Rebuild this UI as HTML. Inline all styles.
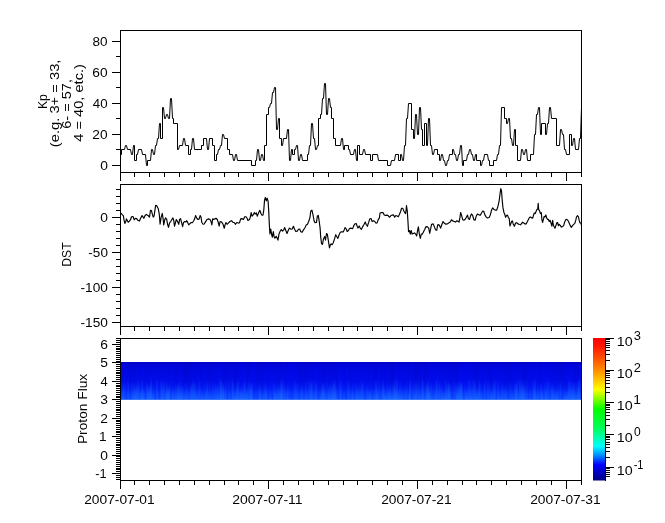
<!DOCTYPE html>
<html><head><meta charset="utf-8"><title>Kp / DST / Proton Flux</title>
<style>html,body{margin:0;padding:0;background:#fff;}body{width:665px;height:523px;position:relative;overflow:hidden;font-family:"Liberation Sans",sans-serif;}</style></head>
<body>
<svg width="665" height="523" viewBox="0 0 665 523" style="display:block;position:absolute;left:0;top:0">
<rect x="0" y="0" width="665" height="523" fill="#ffffff"/>
<defs>
<linearGradient id="sg" x1="0" y1="0" x2="0" y2="1"><stop offset="0" stop-color="#0000cc"/><stop offset="0.08" stop-color="#0006e2"/><stop offset="0.50" stop-color="#000cee"/><stop offset="0.68" stop-color="#021af6"/><stop offset="0.85" stop-color="#0634fe"/><stop offset="1" stop-color="#0a44ff"/></linearGradient>
<linearGradient id="st0" x1="0" y1="0" x2="0" y2="1"><stop offset="0.42" stop-color="#2c94ff" stop-opacity="0"/><stop offset="0.54" stop-color="#2c94ff" stop-opacity="0.35"/><stop offset="1" stop-color="#2c94ff" stop-opacity="1"/></linearGradient>
<linearGradient id="st1" x1="0" y1="0" x2="0" y2="1"><stop offset="0.50" stop-color="#2c94ff" stop-opacity="0"/><stop offset="0.62" stop-color="#2c94ff" stop-opacity="0.35"/><stop offset="1" stop-color="#2c94ff" stop-opacity="1"/></linearGradient>
<linearGradient id="st2" x1="0" y1="0" x2="0" y2="1"><stop offset="0.58" stop-color="#2c94ff" stop-opacity="0"/><stop offset="0.70" stop-color="#2c94ff" stop-opacity="0.35"/><stop offset="1" stop-color="#2c94ff" stop-opacity="1"/></linearGradient>
<linearGradient id="st3" x1="0" y1="0" x2="0" y2="1"><stop offset="0.66" stop-color="#2c94ff" stop-opacity="0"/><stop offset="0.78" stop-color="#2c94ff" stop-opacity="0.35"/><stop offset="1" stop-color="#2c94ff" stop-opacity="1"/></linearGradient>
<linearGradient id="st4" x1="0" y1="0" x2="0" y2="1"><stop offset="0.74" stop-color="#2c94ff" stop-opacity="0"/><stop offset="0.86" stop-color="#2c94ff" stop-opacity="0.35"/><stop offset="1" stop-color="#2c94ff" stop-opacity="1"/></linearGradient>
<linearGradient id="sd" x1="0" y1="0" x2="0" y2="1"><stop offset="0" stop-color="#000078" stop-opacity="1"/><stop offset="0.55" stop-color="#000078" stop-opacity="0.7"/><stop offset="0.8" stop-color="#000078" stop-opacity="0.15"/><stop offset="1" stop-color="#000078" stop-opacity="0"/></linearGradient>
<linearGradient id="cb" x1="0" y1="0" x2="0" y2="1"><stop offset="0" stop-color="#ff0000"/><stop offset="0.06" stop-color="#ff1800"/><stop offset="0.20" stop-color="#ff7800"/><stop offset="0.30" stop-color="#ffc800"/><stop offset="0.36" stop-color="#ffff00"/><stop offset="0.42" stop-color="#90ff00"/><stop offset="0.50" stop-color="#00ff00"/><stop offset="0.64" stop-color="#00ff60"/><stop offset="0.76" stop-color="#00ffff"/><stop offset="0.83" stop-color="#0080ff"/><stop offset="0.89" stop-color="#0000ff"/><stop offset="1" stop-color="#000080"/></linearGradient>
</defs>
<rect x="120.5" y="362.0" width="461.0" height="37.8" fill="url(#sg)"/>
<rect x="120.5" y="362.0" width="1.0" height="37.8" fill="url(#st4)" opacity="0.27"/>
<rect x="120.5" y="362.0" width="1.0" height="37.8" fill="url(#sd)" opacity="0.11"/>
<rect x="121.5" y="362.0" width="1.0" height="37.8" fill="url(#sd)" opacity="0.10"/>
<rect x="122.5" y="362.0" width="1.0" height="37.8" fill="url(#st1)" opacity="0.42"/>
<rect x="122.5" y="362.0" width="1.0" height="37.8" fill="url(#sd)" opacity="0.12"/>
<rect x="123.5" y="362.0" width="1.0" height="37.8" fill="url(#st1)" opacity="0.21"/>
<rect x="123.5" y="362.0" width="1.0" height="37.8" fill="url(#sd)" opacity="0.10"/>
<rect x="124.5" y="362.0" width="1.0" height="37.8" fill="url(#st1)" opacity="0.23"/>
<rect x="126.5" y="362.0" width="1.0" height="37.8" fill="url(#sd)" opacity="0.13"/>
<rect x="127.5" y="362.0" width="1.0" height="37.8" fill="url(#st0)" opacity="0.35"/>
<rect x="128.5" y="362.0" width="1.0" height="37.8" fill="url(#st1)" opacity="0.19"/>
<rect x="128.5" y="362.0" width="1.0" height="37.8" fill="url(#sd)" opacity="0.10"/>
<rect x="129.5" y="362.0" width="1.0" height="37.8" fill="url(#sd)" opacity="0.16"/>
<rect x="130.5" y="362.0" width="1.0" height="37.8" fill="url(#sd)" opacity="0.16"/>
<rect x="131.5" y="362.0" width="1.0" height="37.8" fill="url(#st1)" opacity="0.41"/>
<rect x="131.5" y="362.0" width="1.0" height="37.8" fill="url(#sd)" opacity="0.08"/>
<rect x="132.5" y="362.0" width="1.0" height="37.8" fill="url(#st4)" opacity="0.28"/>
<rect x="132.5" y="362.0" width="1.0" height="37.8" fill="url(#sd)" opacity="0.15"/>
<rect x="133.5" y="362.0" width="1.0" height="37.8" fill="url(#st1)" opacity="0.47"/>
<rect x="133.5" y="362.0" width="1.0" height="37.8" fill="url(#sd)" opacity="0.13"/>
<rect x="134.5" y="362.0" width="1.0" height="37.8" fill="url(#st3)" opacity="0.58"/>
<rect x="134.5" y="362.0" width="1.0" height="37.8" fill="url(#sd)" opacity="0.14"/>
<rect x="135.5" y="362.0" width="1.0" height="37.8" fill="url(#st1)" opacity="0.36"/>
<rect x="135.5" y="362.0" width="1.0" height="37.8" fill="url(#sd)" opacity="0.09"/>
<rect x="136.5" y="362.0" width="1.0" height="37.8" fill="url(#st2)" opacity="0.53"/>
<rect x="137.5" y="362.0" width="1.0" height="37.8" fill="url(#st0)" opacity="0.34"/>
<rect x="137.5" y="362.0" width="1.0" height="37.8" fill="url(#sd)" opacity="0.10"/>
<rect x="138.5" y="362.0" width="1.0" height="37.8" fill="url(#st0)" opacity="0.38"/>
<rect x="138.5" y="362.0" width="1.0" height="37.8" fill="url(#sd)" opacity="0.13"/>
<rect x="139.5" y="362.0" width="1.0" height="37.8" fill="url(#st3)" opacity="0.28"/>
<rect x="139.5" y="362.0" width="1.0" height="37.8" fill="url(#sd)" opacity="0.15"/>
<rect x="140.5" y="362.0" width="1.0" height="37.8" fill="url(#st3)" opacity="0.39"/>
<rect x="140.5" y="362.0" width="1.0" height="37.8" fill="url(#sd)" opacity="0.08"/>
<rect x="141.5" y="362.0" width="1.0" height="37.8" fill="url(#st0)" opacity="0.44"/>
<rect x="142.5" y="362.0" width="1.0" height="37.8" fill="url(#st3)" opacity="0.57"/>
<rect x="143.5" y="362.0" width="1.0" height="37.8" fill="url(#st2)" opacity="0.24"/>
<rect x="143.5" y="362.0" width="1.0" height="37.8" fill="url(#sd)" opacity="0.12"/>
<rect x="144.5" y="362.0" width="1.0" height="37.8" fill="url(#st3)" opacity="0.24"/>
<rect x="144.5" y="362.0" width="1.0" height="37.8" fill="url(#sd)" opacity="0.15"/>
<rect x="145.5" y="362.0" width="1.0" height="37.8" fill="url(#sd)" opacity="0.08"/>
<rect x="146.5" y="362.0" width="1.0" height="37.8" fill="url(#st1)" opacity="0.42"/>
<rect x="147.5" y="362.0" width="1.0" height="37.8" fill="url(#st2)" opacity="0.55"/>
<rect x="147.5" y="362.0" width="1.0" height="37.8" fill="url(#sd)" opacity="0.14"/>
<rect x="148.5" y="362.0" width="1.0" height="37.8" fill="url(#st2)" opacity="0.44"/>
<rect x="148.5" y="362.0" width="1.0" height="37.8" fill="url(#sd)" opacity="0.16"/>
<rect x="149.5" y="362.0" width="1.0" height="37.8" fill="url(#st2)" opacity="0.49"/>
<rect x="149.5" y="362.0" width="1.0" height="37.8" fill="url(#sd)" opacity="0.07"/>
<rect x="150.5" y="362.0" width="1.0" height="37.8" fill="url(#st0)" opacity="0.56"/>
<rect x="151.5" y="362.0" width="1.0" height="37.8" fill="url(#st2)" opacity="0.31"/>
<rect x="151.5" y="362.0" width="1.0" height="37.8" fill="url(#sd)" opacity="0.08"/>
<rect x="152.5" y="362.0" width="1.0" height="37.8" fill="url(#st4)" opacity="0.50"/>
<rect x="152.5" y="362.0" width="1.0" height="37.8" fill="url(#sd)" opacity="0.07"/>
<rect x="153.5" y="362.0" width="1.0" height="37.8" fill="url(#st2)" opacity="0.24"/>
<rect x="153.5" y="362.0" width="1.0" height="37.8" fill="url(#sd)" opacity="0.11"/>
<rect x="155.5" y="362.0" width="1.0" height="37.8" fill="url(#sd)" opacity="0.11"/>
<rect x="156.5" y="362.0" width="1.0" height="37.8" fill="url(#st0)" opacity="0.44"/>
<rect x="157.5" y="362.0" width="1.0" height="37.8" fill="url(#st3)" opacity="0.21"/>
<rect x="157.5" y="362.0" width="1.0" height="37.8" fill="url(#sd)" opacity="0.10"/>
<rect x="158.5" y="362.0" width="1.0" height="37.8" fill="url(#sd)" opacity="0.13"/>
<rect x="159.5" y="362.0" width="1.0" height="37.8" fill="url(#sd)" opacity="0.08"/>
<rect x="160.5" y="362.0" width="1.0" height="37.8" fill="url(#st0)" opacity="0.32"/>
<rect x="161.5" y="362.0" width="1.0" height="37.8" fill="url(#st1)" opacity="0.45"/>
<rect x="162.5" y="362.0" width="1.0" height="37.8" fill="url(#st1)" opacity="0.24"/>
<rect x="162.5" y="362.0" width="1.0" height="37.8" fill="url(#sd)" opacity="0.12"/>
<rect x="163.5" y="362.0" width="1.0" height="37.8" fill="url(#st0)" opacity="0.34"/>
<rect x="163.5" y="362.0" width="1.0" height="37.8" fill="url(#sd)" opacity="0.14"/>
<rect x="164.5" y="362.0" width="1.0" height="37.8" fill="url(#st0)" opacity="0.20"/>
<rect x="164.5" y="362.0" width="1.0" height="37.8" fill="url(#sd)" opacity="0.10"/>
<rect x="165.5" y="362.0" width="1.0" height="37.8" fill="url(#st3)" opacity="0.42"/>
<rect x="165.5" y="362.0" width="1.0" height="37.8" fill="url(#sd)" opacity="0.07"/>
<rect x="166.5" y="362.0" width="1.0" height="37.8" fill="url(#st1)" opacity="0.55"/>
<rect x="166.5" y="362.0" width="1.0" height="37.8" fill="url(#sd)" opacity="0.11"/>
<rect x="167.5" y="362.0" width="1.0" height="37.8" fill="url(#st3)" opacity="0.63"/>
<rect x="167.5" y="362.0" width="1.0" height="37.8" fill="url(#sd)" opacity="0.10"/>
<rect x="168.5" y="362.0" width="1.0" height="37.8" fill="url(#st2)" opacity="0.54"/>
<rect x="168.5" y="362.0" width="1.0" height="37.8" fill="url(#sd)" opacity="0.07"/>
<rect x="169.5" y="362.0" width="1.0" height="37.8" fill="url(#st1)" opacity="0.34"/>
<rect x="169.5" y="362.0" width="1.0" height="37.8" fill="url(#sd)" opacity="0.08"/>
<rect x="170.5" y="362.0" width="1.0" height="37.8" fill="url(#sd)" opacity="0.13"/>
<rect x="171.5" y="362.0" width="1.0" height="37.8" fill="url(#st3)" opacity="0.28"/>
<rect x="172.5" y="362.0" width="1.0" height="37.8" fill="url(#st3)" opacity="0.46"/>
<rect x="173.5" y="362.0" width="1.0" height="37.8" fill="url(#st4)" opacity="0.30"/>
<rect x="173.5" y="362.0" width="1.0" height="37.8" fill="url(#sd)" opacity="0.12"/>
<rect x="174.5" y="362.0" width="1.0" height="37.8" fill="url(#st2)" opacity="0.26"/>
<rect x="174.5" y="362.0" width="1.0" height="37.8" fill="url(#sd)" opacity="0.14"/>
<rect x="175.5" y="362.0" width="1.0" height="37.8" fill="url(#st2)" opacity="0.38"/>
<rect x="175.5" y="362.0" width="1.0" height="37.8" fill="url(#sd)" opacity="0.14"/>
<rect x="176.5" y="362.0" width="1.0" height="37.8" fill="url(#st2)" opacity="0.30"/>
<rect x="176.5" y="362.0" width="1.0" height="37.8" fill="url(#sd)" opacity="0.14"/>
<rect x="177.5" y="362.0" width="1.0" height="37.8" fill="url(#st2)" opacity="0.46"/>
<rect x="177.5" y="362.0" width="1.0" height="37.8" fill="url(#sd)" opacity="0.08"/>
<rect x="178.5" y="362.0" width="1.0" height="37.8" fill="url(#st1)" opacity="0.58"/>
<rect x="178.5" y="362.0" width="1.0" height="37.8" fill="url(#sd)" opacity="0.07"/>
<rect x="179.5" y="362.0" width="1.0" height="37.8" fill="url(#st4)" opacity="0.48"/>
<rect x="180.5" y="362.0" width="1.0" height="37.8" fill="url(#st2)" opacity="0.51"/>
<rect x="181.5" y="362.0" width="1.0" height="37.8" fill="url(#st2)" opacity="0.40"/>
<rect x="181.5" y="362.0" width="1.0" height="37.8" fill="url(#sd)" opacity="0.12"/>
<rect x="182.5" y="362.0" width="1.0" height="37.8" fill="url(#st3)" opacity="0.30"/>
<rect x="182.5" y="362.0" width="1.0" height="37.8" fill="url(#sd)" opacity="0.13"/>
<rect x="183.5" y="362.0" width="1.0" height="37.8" fill="url(#st3)" opacity="0.26"/>
<rect x="183.5" y="362.0" width="1.0" height="37.8" fill="url(#sd)" opacity="0.15"/>
<rect x="184.5" y="362.0" width="1.0" height="37.8" fill="url(#st4)" opacity="0.50"/>
<rect x="184.5" y="362.0" width="1.0" height="37.8" fill="url(#sd)" opacity="0.18"/>
<rect x="185.5" y="362.0" width="1.0" height="37.8" fill="url(#st1)" opacity="0.26"/>
<rect x="185.5" y="362.0" width="1.0" height="37.8" fill="url(#sd)" opacity="0.19"/>
<rect x="186.5" y="362.0" width="1.0" height="37.8" fill="url(#st3)" opacity="0.44"/>
<rect x="186.5" y="362.0" width="1.0" height="37.8" fill="url(#sd)" opacity="0.19"/>
<rect x="187.5" y="362.0" width="1.0" height="37.8" fill="url(#st3)" opacity="0.29"/>
<rect x="187.5" y="362.0" width="1.0" height="37.8" fill="url(#sd)" opacity="0.08"/>
<rect x="188.5" y="362.0" width="1.0" height="37.8" fill="url(#st4)" opacity="0.18"/>
<rect x="188.5" y="362.0" width="1.0" height="37.8" fill="url(#sd)" opacity="0.13"/>
<rect x="189.5" y="362.0" width="1.0" height="37.8" fill="url(#st2)" opacity="0.27"/>
<rect x="189.5" y="362.0" width="1.0" height="37.8" fill="url(#sd)" opacity="0.17"/>
<rect x="190.5" y="362.0" width="1.0" height="37.8" fill="url(#st2)" opacity="0.36"/>
<rect x="190.5" y="362.0" width="1.0" height="37.8" fill="url(#sd)" opacity="0.16"/>
<rect x="191.5" y="362.0" width="1.0" height="37.8" fill="url(#st1)" opacity="0.44"/>
<rect x="192.5" y="362.0" width="1.0" height="37.8" fill="url(#st1)" opacity="0.42"/>
<rect x="192.5" y="362.0" width="1.0" height="37.8" fill="url(#sd)" opacity="0.10"/>
<rect x="193.5" y="362.0" width="1.0" height="37.8" fill="url(#st0)" opacity="0.26"/>
<rect x="193.5" y="362.0" width="1.0" height="37.8" fill="url(#sd)" opacity="0.12"/>
<rect x="194.5" y="362.0" width="1.0" height="37.8" fill="url(#st1)" opacity="0.50"/>
<rect x="194.5" y="362.0" width="1.0" height="37.8" fill="url(#sd)" opacity="0.17"/>
<rect x="195.5" y="362.0" width="1.0" height="37.8" fill="url(#st2)" opacity="0.23"/>
<rect x="195.5" y="362.0" width="1.0" height="37.8" fill="url(#sd)" opacity="0.08"/>
<rect x="196.5" y="362.0" width="1.0" height="37.8" fill="url(#st4)" opacity="0.48"/>
<rect x="196.5" y="362.0" width="1.0" height="37.8" fill="url(#sd)" opacity="0.09"/>
<rect x="197.5" y="362.0" width="1.0" height="37.8" fill="url(#st3)" opacity="0.21"/>
<rect x="197.5" y="362.0" width="1.0" height="37.8" fill="url(#sd)" opacity="0.09"/>
<rect x="198.5" y="362.0" width="1.0" height="37.8" fill="url(#st1)" opacity="0.34"/>
<rect x="199.5" y="362.0" width="1.0" height="37.8" fill="url(#st0)" opacity="0.23"/>
<rect x="199.5" y="362.0" width="1.0" height="37.8" fill="url(#sd)" opacity="0.13"/>
<rect x="200.5" y="362.0" width="1.0" height="37.8" fill="url(#st3)" opacity="0.23"/>
<rect x="200.5" y="362.0" width="1.0" height="37.8" fill="url(#sd)" opacity="0.17"/>
<rect x="201.5" y="362.0" width="1.0" height="37.8" fill="url(#st4)" opacity="0.44"/>
<rect x="201.5" y="362.0" width="1.0" height="37.8" fill="url(#sd)" opacity="0.15"/>
<rect x="202.5" y="362.0" width="1.0" height="37.8" fill="url(#st4)" opacity="0.33"/>
<rect x="203.5" y="362.0" width="1.0" height="37.8" fill="url(#st4)" opacity="0.25"/>
<rect x="204.5" y="362.0" width="1.0" height="37.8" fill="url(#st2)" opacity="0.23"/>
<rect x="204.5" y="362.0" width="1.0" height="37.8" fill="url(#sd)" opacity="0.10"/>
<rect x="205.5" y="362.0" width="1.0" height="37.8" fill="url(#st4)" opacity="0.42"/>
<rect x="205.5" y="362.0" width="1.0" height="37.8" fill="url(#sd)" opacity="0.09"/>
<rect x="206.5" y="362.0" width="1.0" height="37.8" fill="url(#st1)" opacity="0.43"/>
<rect x="206.5" y="362.0" width="1.0" height="37.8" fill="url(#sd)" opacity="0.08"/>
<rect x="207.5" y="362.0" width="1.0" height="37.8" fill="url(#st3)" opacity="0.24"/>
<rect x="207.5" y="362.0" width="1.0" height="37.8" fill="url(#sd)" opacity="0.08"/>
<rect x="208.5" y="362.0" width="1.0" height="37.8" fill="url(#st4)" opacity="0.48"/>
<rect x="208.5" y="362.0" width="1.0" height="37.8" fill="url(#sd)" opacity="0.15"/>
<rect x="209.5" y="362.0" width="1.0" height="37.8" fill="url(#st0)" opacity="0.23"/>
<rect x="209.5" y="362.0" width="1.0" height="37.8" fill="url(#sd)" opacity="0.16"/>
<rect x="210.5" y="362.0" width="1.0" height="37.8" fill="url(#st4)" opacity="0.24"/>
<rect x="210.5" y="362.0" width="1.0" height="37.8" fill="url(#sd)" opacity="0.10"/>
<rect x="211.5" y="362.0" width="1.0" height="37.8" fill="url(#st4)" opacity="0.31"/>
<rect x="211.5" y="362.0" width="1.0" height="37.8" fill="url(#sd)" opacity="0.08"/>
<rect x="212.5" y="362.0" width="1.0" height="37.8" fill="url(#st1)" opacity="0.27"/>
<rect x="212.5" y="362.0" width="1.0" height="37.8" fill="url(#sd)" opacity="0.08"/>
<rect x="213.5" y="362.0" width="1.0" height="37.8" fill="url(#st3)" opacity="0.30"/>
<rect x="213.5" y="362.0" width="1.0" height="37.8" fill="url(#sd)" opacity="0.09"/>
<rect x="214.5" y="362.0" width="1.0" height="37.8" fill="url(#st1)" opacity="0.27"/>
<rect x="214.5" y="362.0" width="1.0" height="37.8" fill="url(#sd)" opacity="0.14"/>
<rect x="215.5" y="362.0" width="1.0" height="37.8" fill="url(#st2)" opacity="0.35"/>
<rect x="215.5" y="362.0" width="1.0" height="37.8" fill="url(#sd)" opacity="0.08"/>
<rect x="216.5" y="362.0" width="1.0" height="37.8" fill="url(#st2)" opacity="0.34"/>
<rect x="216.5" y="362.0" width="1.0" height="37.8" fill="url(#sd)" opacity="0.08"/>
<rect x="217.5" y="362.0" width="1.0" height="37.8" fill="url(#st2)" opacity="0.52"/>
<rect x="218.5" y="362.0" width="1.0" height="37.8" fill="url(#st4)" opacity="0.27"/>
<rect x="219.5" y="362.0" width="1.0" height="37.8" fill="url(#st0)" opacity="0.50"/>
<rect x="220.5" y="362.0" width="1.0" height="37.8" fill="url(#st0)" opacity="0.52"/>
<rect x="220.5" y="362.0" width="1.0" height="37.8" fill="url(#sd)" opacity="0.12"/>
<rect x="221.5" y="362.0" width="1.0" height="37.8" fill="url(#st1)" opacity="0.41"/>
<rect x="221.5" y="362.0" width="1.0" height="37.8" fill="url(#sd)" opacity="0.11"/>
<rect x="222.5" y="362.0" width="1.0" height="37.8" fill="url(#st1)" opacity="0.55"/>
<rect x="222.5" y="362.0" width="1.0" height="37.8" fill="url(#sd)" opacity="0.14"/>
<rect x="223.5" y="362.0" width="1.0" height="37.8" fill="url(#st2)" opacity="0.43"/>
<rect x="223.5" y="362.0" width="1.0" height="37.8" fill="url(#sd)" opacity="0.16"/>
<rect x="224.5" y="362.0" width="1.0" height="37.8" fill="url(#st3)" opacity="0.29"/>
<rect x="224.5" y="362.0" width="1.0" height="37.8" fill="url(#sd)" opacity="0.13"/>
<rect x="225.5" y="362.0" width="1.0" height="37.8" fill="url(#st0)" opacity="0.32"/>
<rect x="225.5" y="362.0" width="1.0" height="37.8" fill="url(#sd)" opacity="0.16"/>
<rect x="226.5" y="362.0" width="1.0" height="37.8" fill="url(#sd)" opacity="0.07"/>
<rect x="227.5" y="362.0" width="1.0" height="37.8" fill="url(#sd)" opacity="0.12"/>
<rect x="228.5" y="362.0" width="1.0" height="37.8" fill="url(#st0)" opacity="0.30"/>
<rect x="228.5" y="362.0" width="1.0" height="37.8" fill="url(#sd)" opacity="0.14"/>
<rect x="229.5" y="362.0" width="1.0" height="37.8" fill="url(#st4)" opacity="0.30"/>
<rect x="229.5" y="362.0" width="1.0" height="37.8" fill="url(#sd)" opacity="0.09"/>
<rect x="231.5" y="362.0" width="1.0" height="37.8" fill="url(#st0)" opacity="0.28"/>
<rect x="231.5" y="362.0" width="1.0" height="37.8" fill="url(#sd)" opacity="0.10"/>
<rect x="232.5" y="362.0" width="1.0" height="37.8" fill="url(#st0)" opacity="0.47"/>
<rect x="232.5" y="362.0" width="1.0" height="37.8" fill="url(#sd)" opacity="0.11"/>
<rect x="233.5" y="362.0" width="1.0" height="37.8" fill="url(#st4)" opacity="0.37"/>
<rect x="233.5" y="362.0" width="1.0" height="37.8" fill="url(#sd)" opacity="0.14"/>
<rect x="234.5" y="362.0" width="1.0" height="37.8" fill="url(#st3)" opacity="0.38"/>
<rect x="234.5" y="362.0" width="1.0" height="37.8" fill="url(#sd)" opacity="0.14"/>
<rect x="235.5" y="362.0" width="1.0" height="37.8" fill="url(#st3)" opacity="0.50"/>
<rect x="235.5" y="362.0" width="1.0" height="37.8" fill="url(#sd)" opacity="0.16"/>
<rect x="236.5" y="362.0" width="1.0" height="37.8" fill="url(#st1)" opacity="0.37"/>
<rect x="236.5" y="362.0" width="1.0" height="37.8" fill="url(#sd)" opacity="0.17"/>
<rect x="237.5" y="362.0" width="1.0" height="37.8" fill="url(#st0)" opacity="0.51"/>
<rect x="237.5" y="362.0" width="1.0" height="37.8" fill="url(#sd)" opacity="0.12"/>
<rect x="238.5" y="362.0" width="1.0" height="37.8" fill="url(#st3)" opacity="0.33"/>
<rect x="239.5" y="362.0" width="1.0" height="37.8" fill="url(#st3)" opacity="0.37"/>
<rect x="239.5" y="362.0" width="1.0" height="37.8" fill="url(#sd)" opacity="0.10"/>
<rect x="240.5" y="362.0" width="1.0" height="37.8" fill="url(#st3)" opacity="0.52"/>
<rect x="241.5" y="362.0" width="1.0" height="37.8" fill="url(#st2)" opacity="0.50"/>
<rect x="241.5" y="362.0" width="1.0" height="37.8" fill="url(#sd)" opacity="0.13"/>
<rect x="242.5" y="362.0" width="1.0" height="37.8" fill="url(#st4)" opacity="0.42"/>
<rect x="242.5" y="362.0" width="1.0" height="37.8" fill="url(#sd)" opacity="0.10"/>
<rect x="243.5" y="362.0" width="1.0" height="37.8" fill="url(#st1)" opacity="0.50"/>
<rect x="244.5" y="362.0" width="1.0" height="37.8" fill="url(#st0)" opacity="0.31"/>
<rect x="245.5" y="362.0" width="1.0" height="37.8" fill="url(#st3)" opacity="0.39"/>
<rect x="246.5" y="362.0" width="1.0" height="37.8" fill="url(#st3)" opacity="0.56"/>
<rect x="246.5" y="362.0" width="1.0" height="37.8" fill="url(#sd)" opacity="0.14"/>
<rect x="247.5" y="362.0" width="1.0" height="37.8" fill="url(#st1)" opacity="0.25"/>
<rect x="247.5" y="362.0" width="1.0" height="37.8" fill="url(#sd)" opacity="0.16"/>
<rect x="248.5" y="362.0" width="1.0" height="37.8" fill="url(#st0)" opacity="0.34"/>
<rect x="248.5" y="362.0" width="1.0" height="37.8" fill="url(#sd)" opacity="0.16"/>
<rect x="249.5" y="362.0" width="1.0" height="37.8" fill="url(#st2)" opacity="0.43"/>
<rect x="249.5" y="362.0" width="1.0" height="37.8" fill="url(#sd)" opacity="0.07"/>
<rect x="250.5" y="362.0" width="1.0" height="37.8" fill="url(#st1)" opacity="0.46"/>
<rect x="250.5" y="362.0" width="1.0" height="37.8" fill="url(#sd)" opacity="0.08"/>
<rect x="251.5" y="362.0" width="1.0" height="37.8" fill="url(#st1)" opacity="0.44"/>
<rect x="251.5" y="362.0" width="1.0" height="37.8" fill="url(#sd)" opacity="0.08"/>
<rect x="252.5" y="362.0" width="1.0" height="37.8" fill="url(#st4)" opacity="0.20"/>
<rect x="255.5" y="362.0" width="1.0" height="37.8" fill="url(#st4)" opacity="0.25"/>
<rect x="255.5" y="362.0" width="1.0" height="37.8" fill="url(#sd)" opacity="0.11"/>
<rect x="256.5" y="362.0" width="1.0" height="37.8" fill="url(#sd)" opacity="0.09"/>
<rect x="257.5" y="362.0" width="1.0" height="37.8" fill="url(#sd)" opacity="0.11"/>
<rect x="258.5" y="362.0" width="1.0" height="37.8" fill="url(#st2)" opacity="0.26"/>
<rect x="258.5" y="362.0" width="1.0" height="37.8" fill="url(#sd)" opacity="0.16"/>
<rect x="259.5" y="362.0" width="1.0" height="37.8" fill="url(#st2)" opacity="0.47"/>
<rect x="259.5" y="362.0" width="1.0" height="37.8" fill="url(#sd)" opacity="0.07"/>
<rect x="260.5" y="362.0" width="1.0" height="37.8" fill="url(#st4)" opacity="0.25"/>
<rect x="260.5" y="362.0" width="1.0" height="37.8" fill="url(#sd)" opacity="0.11"/>
<rect x="261.5" y="362.0" width="1.0" height="37.8" fill="url(#st4)" opacity="0.21"/>
<rect x="261.5" y="362.0" width="1.0" height="37.8" fill="url(#sd)" opacity="0.16"/>
<rect x="262.5" y="362.0" width="1.0" height="37.8" fill="url(#st4)" opacity="0.33"/>
<rect x="262.5" y="362.0" width="1.0" height="37.8" fill="url(#sd)" opacity="0.09"/>
<rect x="263.5" y="362.0" width="1.0" height="37.8" fill="url(#st2)" opacity="0.22"/>
<rect x="263.5" y="362.0" width="1.0" height="37.8" fill="url(#sd)" opacity="0.14"/>
<rect x="264.5" y="362.0" width="1.0" height="37.8" fill="url(#st1)" opacity="0.29"/>
<rect x="265.5" y="362.0" width="1.0" height="37.8" fill="url(#st3)" opacity="0.47"/>
<rect x="265.5" y="362.0" width="1.0" height="37.8" fill="url(#sd)" opacity="0.08"/>
<rect x="266.5" y="362.0" width="1.0" height="37.8" fill="url(#st2)" opacity="0.26"/>
<rect x="266.5" y="362.0" width="1.0" height="37.8" fill="url(#sd)" opacity="0.12"/>
<rect x="267.5" y="362.0" width="1.0" height="37.8" fill="url(#sd)" opacity="0.13"/>
<rect x="269.5" y="362.0" width="1.0" height="37.8" fill="url(#st3)" opacity="0.26"/>
<rect x="270.5" y="362.0" width="1.0" height="37.8" fill="url(#st4)" opacity="0.29"/>
<rect x="271.5" y="362.0" width="1.0" height="37.8" fill="url(#sd)" opacity="0.11"/>
<rect x="273.5" y="362.0" width="1.0" height="37.8" fill="url(#st1)" opacity="0.41"/>
<rect x="273.5" y="362.0" width="1.0" height="37.8" fill="url(#sd)" opacity="0.11"/>
<rect x="274.5" y="362.0" width="1.0" height="37.8" fill="url(#st3)" opacity="0.47"/>
<rect x="275.5" y="362.0" width="1.0" height="37.8" fill="url(#st4)" opacity="0.53"/>
<rect x="276.5" y="362.0" width="1.0" height="37.8" fill="url(#st2)" opacity="0.37"/>
<rect x="276.5" y="362.0" width="1.0" height="37.8" fill="url(#sd)" opacity="0.12"/>
<rect x="277.5" y="362.0" width="1.0" height="37.8" fill="url(#st2)" opacity="0.28"/>
<rect x="277.5" y="362.0" width="1.0" height="37.8" fill="url(#sd)" opacity="0.12"/>
<rect x="278.5" y="362.0" width="1.0" height="37.8" fill="url(#st2)" opacity="0.43"/>
<rect x="278.5" y="362.0" width="1.0" height="37.8" fill="url(#sd)" opacity="0.09"/>
<rect x="279.5" y="362.0" width="1.0" height="37.8" fill="url(#st3)" opacity="0.44"/>
<rect x="279.5" y="362.0" width="1.0" height="37.8" fill="url(#sd)" opacity="0.14"/>
<rect x="280.5" y="362.0" width="1.0" height="37.8" fill="url(#st0)" opacity="0.57"/>
<rect x="280.5" y="362.0" width="1.0" height="37.8" fill="url(#sd)" opacity="0.09"/>
<rect x="281.5" y="362.0" width="1.0" height="37.8" fill="url(#st1)" opacity="0.48"/>
<rect x="281.5" y="362.0" width="1.0" height="37.8" fill="url(#sd)" opacity="0.11"/>
<rect x="282.5" y="362.0" width="1.0" height="37.8" fill="url(#st0)" opacity="0.36"/>
<rect x="283.5" y="362.0" width="1.0" height="37.8" fill="url(#st3)" opacity="0.22"/>
<rect x="284.5" y="362.0" width="1.0" height="37.8" fill="url(#st2)" opacity="0.44"/>
<rect x="284.5" y="362.0" width="1.0" height="37.8" fill="url(#sd)" opacity="0.08"/>
<rect x="285.5" y="362.0" width="1.0" height="37.8" fill="url(#sd)" opacity="0.09"/>
<rect x="286.5" y="362.0" width="1.0" height="37.8" fill="url(#st3)" opacity="0.42"/>
<rect x="286.5" y="362.0" width="1.0" height="37.8" fill="url(#sd)" opacity="0.11"/>
<rect x="287.5" y="362.0" width="1.0" height="37.8" fill="url(#st1)" opacity="0.30"/>
<rect x="287.5" y="362.0" width="1.0" height="37.8" fill="url(#sd)" opacity="0.10"/>
<rect x="289.5" y="362.0" width="1.0" height="37.8" fill="url(#st3)" opacity="0.21"/>
<rect x="293.5" y="362.0" width="1.0" height="37.8" fill="url(#st2)" opacity="0.25"/>
<rect x="294.5" y="362.0" width="1.0" height="37.8" fill="url(#st0)" opacity="0.22"/>
<rect x="295.5" y="362.0" width="1.0" height="37.8" fill="url(#st1)" opacity="0.36"/>
<rect x="295.5" y="362.0" width="1.0" height="37.8" fill="url(#sd)" opacity="0.07"/>
<rect x="296.5" y="362.0" width="1.0" height="37.8" fill="url(#st2)" opacity="0.19"/>
<rect x="296.5" y="362.0" width="1.0" height="37.8" fill="url(#sd)" opacity="0.11"/>
<rect x="297.5" y="362.0" width="1.0" height="37.8" fill="url(#st1)" opacity="0.25"/>
<rect x="298.5" y="362.0" width="1.0" height="37.8" fill="url(#sd)" opacity="0.12"/>
<rect x="299.5" y="362.0" width="1.0" height="37.8" fill="url(#st4)" opacity="0.26"/>
<rect x="299.5" y="362.0" width="1.0" height="37.8" fill="url(#sd)" opacity="0.13"/>
<rect x="300.5" y="362.0" width="1.0" height="37.8" fill="url(#st2)" opacity="0.26"/>
<rect x="300.5" y="362.0" width="1.0" height="37.8" fill="url(#sd)" opacity="0.17"/>
<rect x="301.5" y="362.0" width="1.0" height="37.8" fill="url(#st2)" opacity="0.38"/>
<rect x="301.5" y="362.0" width="1.0" height="37.8" fill="url(#sd)" opacity="0.08"/>
<rect x="302.5" y="362.0" width="1.0" height="37.8" fill="url(#st3)" opacity="0.26"/>
<rect x="302.5" y="362.0" width="1.0" height="37.8" fill="url(#sd)" opacity="0.12"/>
<rect x="303.5" y="362.0" width="1.0" height="37.8" fill="url(#sd)" opacity="0.07"/>
<rect x="304.5" y="362.0" width="1.0" height="37.8" fill="url(#st4)" opacity="0.33"/>
<rect x="304.5" y="362.0" width="1.0" height="37.8" fill="url(#sd)" opacity="0.15"/>
<rect x="305.5" y="362.0" width="1.0" height="37.8" fill="url(#st0)" opacity="0.30"/>
<rect x="305.5" y="362.0" width="1.0" height="37.8" fill="url(#sd)" opacity="0.18"/>
<rect x="306.5" y="362.0" width="1.0" height="37.8" fill="url(#st3)" opacity="0.31"/>
<rect x="306.5" y="362.0" width="1.0" height="37.8" fill="url(#sd)" opacity="0.12"/>
<rect x="307.5" y="362.0" width="1.0" height="37.8" fill="url(#st4)" opacity="0.19"/>
<rect x="308.5" y="362.0" width="1.0" height="37.8" fill="url(#st0)" opacity="0.29"/>
<rect x="308.5" y="362.0" width="1.0" height="37.8" fill="url(#sd)" opacity="0.14"/>
<rect x="309.5" y="362.0" width="1.0" height="37.8" fill="url(#st0)" opacity="0.21"/>
<rect x="309.5" y="362.0" width="1.0" height="37.8" fill="url(#sd)" opacity="0.15"/>
<rect x="310.5" y="362.0" width="1.0" height="37.8" fill="url(#st1)" opacity="0.46"/>
<rect x="311.5" y="362.0" width="1.0" height="37.8" fill="url(#st0)" opacity="0.45"/>
<rect x="311.5" y="362.0" width="1.0" height="37.8" fill="url(#sd)" opacity="0.09"/>
<rect x="312.5" y="362.0" width="1.0" height="37.8" fill="url(#st3)" opacity="0.20"/>
<rect x="312.5" y="362.0" width="1.0" height="37.8" fill="url(#sd)" opacity="0.14"/>
<rect x="313.5" y="362.0" width="1.0" height="37.8" fill="url(#st0)" opacity="0.19"/>
<rect x="314.5" y="362.0" width="1.0" height="37.8" fill="url(#st4)" opacity="0.46"/>
<rect x="315.5" y="362.0" width="1.0" height="37.8" fill="url(#st1)" opacity="0.45"/>
<rect x="316.5" y="362.0" width="1.0" height="37.8" fill="url(#st0)" opacity="0.21"/>
<rect x="317.5" y="362.0" width="1.0" height="37.8" fill="url(#sd)" opacity="0.15"/>
<rect x="319.5" y="362.0" width="1.0" height="37.8" fill="url(#st3)" opacity="0.32"/>
<rect x="319.5" y="362.0" width="1.0" height="37.8" fill="url(#sd)" opacity="0.10"/>
<rect x="320.5" y="362.0" width="1.0" height="37.8" fill="url(#st4)" opacity="0.35"/>
<rect x="320.5" y="362.0" width="1.0" height="37.8" fill="url(#sd)" opacity="0.10"/>
<rect x="321.5" y="362.0" width="1.0" height="37.8" fill="url(#st1)" opacity="0.45"/>
<rect x="321.5" y="362.0" width="1.0" height="37.8" fill="url(#sd)" opacity="0.10"/>
<rect x="322.5" y="362.0" width="1.0" height="37.8" fill="url(#st2)" opacity="0.48"/>
<rect x="322.5" y="362.0" width="1.0" height="37.8" fill="url(#sd)" opacity="0.15"/>
<rect x="323.5" y="362.0" width="1.0" height="37.8" fill="url(#st1)" opacity="0.48"/>
<rect x="323.5" y="362.0" width="1.0" height="37.8" fill="url(#sd)" opacity="0.17"/>
<rect x="324.5" y="362.0" width="1.0" height="37.8" fill="url(#st3)" opacity="0.42"/>
<rect x="324.5" y="362.0" width="1.0" height="37.8" fill="url(#sd)" opacity="0.08"/>
<rect x="325.5" y="362.0" width="1.0" height="37.8" fill="url(#st3)" opacity="0.20"/>
<rect x="325.5" y="362.0" width="1.0" height="37.8" fill="url(#sd)" opacity="0.13"/>
<rect x="326.5" y="362.0" width="1.0" height="37.8" fill="url(#st0)" opacity="0.20"/>
<rect x="327.5" y="362.0" width="1.0" height="37.8" fill="url(#st3)" opacity="0.26"/>
<rect x="327.5" y="362.0" width="1.0" height="37.8" fill="url(#sd)" opacity="0.11"/>
<rect x="328.5" y="362.0" width="1.0" height="37.8" fill="url(#st2)" opacity="0.50"/>
<rect x="328.5" y="362.0" width="1.0" height="37.8" fill="url(#sd)" opacity="0.13"/>
<rect x="329.5" y="362.0" width="1.0" height="37.8" fill="url(#st0)" opacity="0.23"/>
<rect x="329.5" y="362.0" width="1.0" height="37.8" fill="url(#sd)" opacity="0.13"/>
<rect x="330.5" y="362.0" width="1.0" height="37.8" fill="url(#st2)" opacity="0.37"/>
<rect x="330.5" y="362.0" width="1.0" height="37.8" fill="url(#sd)" opacity="0.15"/>
<rect x="331.5" y="362.0" width="1.0" height="37.8" fill="url(#st2)" opacity="0.51"/>
<rect x="332.5" y="362.0" width="1.0" height="37.8" fill="url(#st0)" opacity="0.36"/>
<rect x="332.5" y="362.0" width="1.0" height="37.8" fill="url(#sd)" opacity="0.12"/>
<rect x="333.5" y="362.0" width="1.0" height="37.8" fill="url(#st1)" opacity="0.51"/>
<rect x="333.5" y="362.0" width="1.0" height="37.8" fill="url(#sd)" opacity="0.13"/>
<rect x="334.5" y="362.0" width="1.0" height="37.8" fill="url(#st0)" opacity="0.45"/>
<rect x="334.5" y="362.0" width="1.0" height="37.8" fill="url(#sd)" opacity="0.10"/>
<rect x="335.5" y="362.0" width="1.0" height="37.8" fill="url(#st2)" opacity="0.48"/>
<rect x="335.5" y="362.0" width="1.0" height="37.8" fill="url(#sd)" opacity="0.13"/>
<rect x="336.5" y="362.0" width="1.0" height="37.8" fill="url(#st4)" opacity="0.24"/>
<rect x="336.5" y="362.0" width="1.0" height="37.8" fill="url(#sd)" opacity="0.15"/>
<rect x="339.5" y="362.0" width="1.0" height="37.8" fill="url(#st0)" opacity="0.31"/>
<rect x="340.5" y="362.0" width="1.0" height="37.8" fill="url(#st0)" opacity="0.34"/>
<rect x="340.5" y="362.0" width="1.0" height="37.8" fill="url(#sd)" opacity="0.12"/>
<rect x="343.5" y="362.0" width="1.0" height="37.8" fill="url(#st4)" opacity="0.38"/>
<rect x="343.5" y="362.0" width="1.0" height="37.8" fill="url(#sd)" opacity="0.14"/>
<rect x="344.5" y="362.0" width="1.0" height="37.8" fill="url(#sd)" opacity="0.12"/>
<rect x="347.5" y="362.0" width="1.0" height="37.8" fill="url(#st0)" opacity="0.31"/>
<rect x="348.5" y="362.0" width="1.0" height="37.8" fill="url(#st1)" opacity="0.23"/>
<rect x="348.5" y="362.0" width="1.0" height="37.8" fill="url(#sd)" opacity="0.09"/>
<rect x="349.5" y="362.0" width="1.0" height="37.8" fill="url(#st3)" opacity="0.26"/>
<rect x="349.5" y="362.0" width="1.0" height="37.8" fill="url(#sd)" opacity="0.15"/>
<rect x="350.5" y="362.0" width="1.0" height="37.8" fill="url(#sd)" opacity="0.09"/>
<rect x="351.5" y="362.0" width="1.0" height="37.8" fill="url(#st3)" opacity="0.42"/>
<rect x="351.5" y="362.0" width="1.0" height="37.8" fill="url(#sd)" opacity="0.09"/>
<rect x="352.5" y="362.0" width="1.0" height="37.8" fill="url(#st1)" opacity="0.24"/>
<rect x="353.5" y="362.0" width="1.0" height="37.8" fill="url(#st4)" opacity="0.30"/>
<rect x="353.5" y="362.0" width="1.0" height="37.8" fill="url(#sd)" opacity="0.14"/>
<rect x="355.5" y="362.0" width="1.0" height="37.8" fill="url(#st1)" opacity="0.38"/>
<rect x="355.5" y="362.0" width="1.0" height="37.8" fill="url(#sd)" opacity="0.11"/>
<rect x="356.5" y="362.0" width="1.0" height="37.8" fill="url(#st4)" opacity="0.55"/>
<rect x="357.5" y="362.0" width="1.0" height="37.8" fill="url(#st2)" opacity="0.32"/>
<rect x="357.5" y="362.0" width="1.0" height="37.8" fill="url(#sd)" opacity="0.11"/>
<rect x="358.5" y="362.0" width="1.0" height="37.8" fill="url(#st2)" opacity="0.29"/>
<rect x="359.5" y="362.0" width="1.0" height="37.8" fill="url(#st4)" opacity="0.45"/>
<rect x="360.5" y="362.0" width="1.0" height="37.8" fill="url(#st1)" opacity="0.33"/>
<rect x="360.5" y="362.0" width="1.0" height="37.8" fill="url(#sd)" opacity="0.12"/>
<rect x="361.5" y="362.0" width="1.0" height="37.8" fill="url(#st0)" opacity="0.28"/>
<rect x="361.5" y="362.0" width="1.0" height="37.8" fill="url(#sd)" opacity="0.15"/>
<rect x="362.5" y="362.0" width="1.0" height="37.8" fill="url(#st1)" opacity="0.36"/>
<rect x="362.5" y="362.0" width="1.0" height="37.8" fill="url(#sd)" opacity="0.10"/>
<rect x="363.5" y="362.0" width="1.0" height="37.8" fill="url(#st3)" opacity="0.20"/>
<rect x="365.5" y="362.0" width="1.0" height="37.8" fill="url(#sd)" opacity="0.11"/>
<rect x="366.5" y="362.0" width="1.0" height="37.8" fill="url(#st2)" opacity="0.39"/>
<rect x="367.5" y="362.0" width="1.0" height="37.8" fill="url(#st4)" opacity="0.35"/>
<rect x="367.5" y="362.0" width="1.0" height="37.8" fill="url(#sd)" opacity="0.08"/>
<rect x="368.5" y="362.0" width="1.0" height="37.8" fill="url(#st3)" opacity="0.39"/>
<rect x="368.5" y="362.0" width="1.0" height="37.8" fill="url(#sd)" opacity="0.13"/>
<rect x="369.5" y="362.0" width="1.0" height="37.8" fill="url(#st4)" opacity="0.44"/>
<rect x="370.5" y="362.0" width="1.0" height="37.8" fill="url(#st3)" opacity="0.42"/>
<rect x="371.5" y="362.0" width="1.0" height="37.8" fill="url(#sd)" opacity="0.10"/>
<rect x="372.5" y="362.0" width="1.0" height="37.8" fill="url(#st4)" opacity="0.31"/>
<rect x="372.5" y="362.0" width="1.0" height="37.8" fill="url(#sd)" opacity="0.10"/>
<rect x="373.5" y="362.0" width="1.0" height="37.8" fill="url(#st3)" opacity="0.31"/>
<rect x="373.5" y="362.0" width="1.0" height="37.8" fill="url(#sd)" opacity="0.13"/>
<rect x="374.5" y="362.0" width="1.0" height="37.8" fill="url(#st4)" opacity="0.30"/>
<rect x="374.5" y="362.0" width="1.0" height="37.8" fill="url(#sd)" opacity="0.15"/>
<rect x="375.5" y="362.0" width="1.0" height="37.8" fill="url(#st0)" opacity="0.50"/>
<rect x="375.5" y="362.0" width="1.0" height="37.8" fill="url(#sd)" opacity="0.14"/>
<rect x="376.5" y="362.0" width="1.0" height="37.8" fill="url(#st2)" opacity="0.42"/>
<rect x="376.5" y="362.0" width="1.0" height="37.8" fill="url(#sd)" opacity="0.15"/>
<rect x="377.5" y="362.0" width="1.0" height="37.8" fill="url(#st4)" opacity="0.56"/>
<rect x="378.5" y="362.0" width="1.0" height="37.8" fill="url(#st0)" opacity="0.32"/>
<rect x="380.5" y="362.0" width="1.0" height="37.8" fill="url(#st3)" opacity="0.29"/>
<rect x="380.5" y="362.0" width="1.0" height="37.8" fill="url(#sd)" opacity="0.12"/>
<rect x="381.5" y="362.0" width="1.0" height="37.8" fill="url(#st2)" opacity="0.23"/>
<rect x="381.5" y="362.0" width="1.0" height="37.8" fill="url(#sd)" opacity="0.16"/>
<rect x="382.5" y="362.0" width="1.0" height="37.8" fill="url(#st0)" opacity="0.47"/>
<rect x="382.5" y="362.0" width="1.0" height="37.8" fill="url(#sd)" opacity="0.09"/>
<rect x="383.5" y="362.0" width="1.0" height="37.8" fill="url(#st2)" opacity="0.50"/>
<rect x="383.5" y="362.0" width="1.0" height="37.8" fill="url(#sd)" opacity="0.12"/>
<rect x="384.5" y="362.0" width="1.0" height="37.8" fill="url(#st4)" opacity="0.57"/>
<rect x="384.5" y="362.0" width="1.0" height="37.8" fill="url(#sd)" opacity="0.13"/>
<rect x="385.5" y="362.0" width="1.0" height="37.8" fill="url(#st4)" opacity="0.49"/>
<rect x="385.5" y="362.0" width="1.0" height="37.8" fill="url(#sd)" opacity="0.07"/>
<rect x="386.5" y="362.0" width="1.0" height="37.8" fill="url(#st2)" opacity="0.24"/>
<rect x="387.5" y="362.0" width="1.0" height="37.8" fill="url(#st3)" opacity="0.49"/>
<rect x="387.5" y="362.0" width="1.0" height="37.8" fill="url(#sd)" opacity="0.08"/>
<rect x="388.5" y="362.0" width="1.0" height="37.8" fill="url(#st3)" opacity="0.60"/>
<rect x="388.5" y="362.0" width="1.0" height="37.8" fill="url(#sd)" opacity="0.12"/>
<rect x="389.5" y="362.0" width="1.0" height="37.8" fill="url(#st1)" opacity="0.32"/>
<rect x="389.5" y="362.0" width="1.0" height="37.8" fill="url(#sd)" opacity="0.13"/>
<rect x="390.5" y="362.0" width="1.0" height="37.8" fill="url(#st3)" opacity="0.50"/>
<rect x="390.5" y="362.0" width="1.0" height="37.8" fill="url(#sd)" opacity="0.12"/>
<rect x="391.5" y="362.0" width="1.0" height="37.8" fill="url(#st4)" opacity="0.34"/>
<rect x="391.5" y="362.0" width="1.0" height="37.8" fill="url(#sd)" opacity="0.15"/>
<rect x="392.5" y="362.0" width="1.0" height="37.8" fill="url(#st1)" opacity="0.41"/>
<rect x="392.5" y="362.0" width="1.0" height="37.8" fill="url(#sd)" opacity="0.18"/>
<rect x="393.5" y="362.0" width="1.0" height="37.8" fill="url(#st2)" opacity="0.53"/>
<rect x="393.5" y="362.0" width="1.0" height="37.8" fill="url(#sd)" opacity="0.09"/>
<rect x="394.5" y="362.0" width="1.0" height="37.8" fill="url(#st0)" opacity="0.55"/>
<rect x="394.5" y="362.0" width="1.0" height="37.8" fill="url(#sd)" opacity="0.13"/>
<rect x="395.5" y="362.0" width="1.0" height="37.8" fill="url(#st3)" opacity="0.59"/>
<rect x="396.5" y="362.0" width="1.0" height="37.8" fill="url(#st0)" opacity="0.56"/>
<rect x="397.5" y="362.0" width="1.0" height="37.8" fill="url(#st4)" opacity="0.47"/>
<rect x="397.5" y="362.0" width="1.0" height="37.8" fill="url(#sd)" opacity="0.10"/>
<rect x="398.5" y="362.0" width="1.0" height="37.8" fill="url(#st3)" opacity="0.49"/>
<rect x="398.5" y="362.0" width="1.0" height="37.8" fill="url(#sd)" opacity="0.09"/>
<rect x="399.5" y="362.0" width="1.0" height="37.8" fill="url(#st1)" opacity="0.40"/>
<rect x="399.5" y="362.0" width="1.0" height="37.8" fill="url(#sd)" opacity="0.11"/>
<rect x="400.5" y="362.0" width="1.0" height="37.8" fill="url(#st4)" opacity="0.28"/>
<rect x="400.5" y="362.0" width="1.0" height="37.8" fill="url(#sd)" opacity="0.07"/>
<rect x="401.5" y="362.0" width="1.0" height="37.8" fill="url(#st3)" opacity="0.47"/>
<rect x="402.5" y="362.0" width="1.0" height="37.8" fill="url(#st4)" opacity="0.20"/>
<rect x="403.5" y="362.0" width="1.0" height="37.8" fill="url(#st3)" opacity="0.30"/>
<rect x="403.5" y="362.0" width="1.0" height="37.8" fill="url(#sd)" opacity="0.09"/>
<rect x="404.5" y="362.0" width="1.0" height="37.8" fill="url(#st2)" opacity="0.19"/>
<rect x="404.5" y="362.0" width="1.0" height="37.8" fill="url(#sd)" opacity="0.11"/>
<rect x="405.5" y="362.0" width="1.0" height="37.8" fill="url(#st3)" opacity="0.36"/>
<rect x="406.5" y="362.0" width="1.0" height="37.8" fill="url(#st0)" opacity="0.20"/>
<rect x="406.5" y="362.0" width="1.0" height="37.8" fill="url(#sd)" opacity="0.08"/>
<rect x="407.5" y="362.0" width="1.0" height="37.8" fill="url(#st3)" opacity="0.20"/>
<rect x="407.5" y="362.0" width="1.0" height="37.8" fill="url(#sd)" opacity="0.14"/>
<rect x="408.5" y="362.0" width="1.0" height="37.8" fill="url(#st4)" opacity="0.45"/>
<rect x="408.5" y="362.0" width="1.0" height="37.8" fill="url(#sd)" opacity="0.08"/>
<rect x="409.5" y="362.0" width="1.0" height="37.8" fill="url(#st0)" opacity="0.53"/>
<rect x="409.5" y="362.0" width="1.0" height="37.8" fill="url(#sd)" opacity="0.09"/>
<rect x="410.5" y="362.0" width="1.0" height="37.8" fill="url(#st0)" opacity="0.22"/>
<rect x="410.5" y="362.0" width="1.0" height="37.8" fill="url(#sd)" opacity="0.12"/>
<rect x="412.5" y="362.0" width="1.0" height="37.8" fill="url(#st3)" opacity="0.28"/>
<rect x="413.5" y="362.0" width="1.0" height="37.8" fill="url(#st1)" opacity="0.41"/>
<rect x="413.5" y="362.0" width="1.0" height="37.8" fill="url(#sd)" opacity="0.12"/>
<rect x="414.5" y="362.0" width="1.0" height="37.8" fill="url(#st4)" opacity="0.46"/>
<rect x="414.5" y="362.0" width="1.0" height="37.8" fill="url(#sd)" opacity="0.16"/>
<rect x="415.5" y="362.0" width="1.0" height="37.8" fill="url(#st0)" opacity="0.44"/>
<rect x="415.5" y="362.0" width="1.0" height="37.8" fill="url(#sd)" opacity="0.18"/>
<rect x="416.5" y="362.0" width="1.0" height="37.8" fill="url(#st1)" opacity="0.33"/>
<rect x="416.5" y="362.0" width="1.0" height="37.8" fill="url(#sd)" opacity="0.17"/>
<rect x="417.5" y="362.0" width="1.0" height="37.8" fill="url(#st3)" opacity="0.21"/>
<rect x="417.5" y="362.0" width="1.0" height="37.8" fill="url(#sd)" opacity="0.11"/>
<rect x="418.5" y="362.0" width="1.0" height="37.8" fill="url(#st0)" opacity="0.44"/>
<rect x="418.5" y="362.0" width="1.0" height="37.8" fill="url(#sd)" opacity="0.17"/>
<rect x="419.5" y="362.0" width="1.0" height="37.8" fill="url(#st3)" opacity="0.28"/>
<rect x="419.5" y="362.0" width="1.0" height="37.8" fill="url(#sd)" opacity="0.18"/>
<rect x="420.5" y="362.0" width="1.0" height="37.8" fill="url(#st4)" opacity="0.26"/>
<rect x="420.5" y="362.0" width="1.0" height="37.8" fill="url(#sd)" opacity="0.08"/>
<rect x="421.5" y="362.0" width="1.0" height="37.8" fill="url(#st0)" opacity="0.49"/>
<rect x="422.5" y="362.0" width="1.0" height="37.8" fill="url(#st0)" opacity="0.40"/>
<rect x="422.5" y="362.0" width="1.0" height="37.8" fill="url(#sd)" opacity="0.14"/>
<rect x="423.5" y="362.0" width="1.0" height="37.8" fill="url(#st2)" opacity="0.36"/>
<rect x="423.5" y="362.0" width="1.0" height="37.8" fill="url(#sd)" opacity="0.17"/>
<rect x="424.5" y="362.0" width="1.0" height="37.8" fill="url(#sd)" opacity="0.16"/>
<rect x="425.5" y="362.0" width="1.0" height="37.8" fill="url(#st1)" opacity="0.46"/>
<rect x="425.5" y="362.0" width="1.0" height="37.8" fill="url(#sd)" opacity="0.15"/>
<rect x="426.5" y="362.0" width="1.0" height="37.8" fill="url(#st2)" opacity="0.56"/>
<rect x="426.5" y="362.0" width="1.0" height="37.8" fill="url(#sd)" opacity="0.10"/>
<rect x="427.5" y="362.0" width="1.0" height="37.8" fill="url(#st0)" opacity="0.60"/>
<rect x="427.5" y="362.0" width="1.0" height="37.8" fill="url(#sd)" opacity="0.12"/>
<rect x="428.5" y="362.0" width="1.0" height="37.8" fill="url(#st2)" opacity="0.49"/>
<rect x="428.5" y="362.0" width="1.0" height="37.8" fill="url(#sd)" opacity="0.08"/>
<rect x="429.5" y="362.0" width="1.0" height="37.8" fill="url(#st3)" opacity="0.59"/>
<rect x="430.5" y="362.0" width="1.0" height="37.8" fill="url(#st1)" opacity="0.26"/>
<rect x="431.5" y="362.0" width="1.0" height="37.8" fill="url(#st1)" opacity="0.21"/>
<rect x="431.5" y="362.0" width="1.0" height="37.8" fill="url(#sd)" opacity="0.12"/>
<rect x="432.5" y="362.0" width="1.0" height="37.8" fill="url(#st3)" opacity="0.18"/>
<rect x="433.5" y="362.0" width="1.0" height="37.8" fill="url(#st3)" opacity="0.24"/>
<rect x="434.5" y="362.0" width="1.0" height="37.8" fill="url(#st3)" opacity="0.44"/>
<rect x="435.5" y="362.0" width="1.0" height="37.8" fill="url(#st0)" opacity="0.32"/>
<rect x="435.5" y="362.0" width="1.0" height="37.8" fill="url(#sd)" opacity="0.12"/>
<rect x="436.5" y="362.0" width="1.0" height="37.8" fill="url(#st0)" opacity="0.46"/>
<rect x="437.5" y="362.0" width="1.0" height="37.8" fill="url(#st3)" opacity="0.19"/>
<rect x="437.5" y="362.0" width="1.0" height="37.8" fill="url(#sd)" opacity="0.09"/>
<rect x="438.5" y="362.0" width="1.0" height="37.8" fill="url(#st1)" opacity="0.42"/>
<rect x="439.5" y="362.0" width="1.0" height="37.8" fill="url(#st0)" opacity="0.25"/>
<rect x="439.5" y="362.0" width="1.0" height="37.8" fill="url(#sd)" opacity="0.12"/>
<rect x="440.5" y="362.0" width="1.0" height="37.8" fill="url(#st2)" opacity="0.28"/>
<rect x="441.5" y="362.0" width="1.0" height="37.8" fill="url(#st3)" opacity="0.35"/>
<rect x="441.5" y="362.0" width="1.0" height="37.8" fill="url(#sd)" opacity="0.13"/>
<rect x="442.5" y="362.0" width="1.0" height="37.8" fill="url(#st3)" opacity="0.35"/>
<rect x="443.5" y="362.0" width="1.0" height="37.8" fill="url(#st4)" opacity="0.45"/>
<rect x="443.5" y="362.0" width="1.0" height="37.8" fill="url(#sd)" opacity="0.08"/>
<rect x="444.5" y="362.0" width="1.0" height="37.8" fill="url(#st4)" opacity="0.57"/>
<rect x="444.5" y="362.0" width="1.0" height="37.8" fill="url(#sd)" opacity="0.11"/>
<rect x="445.5" y="362.0" width="1.0" height="37.8" fill="url(#st0)" opacity="0.50"/>
<rect x="446.5" y="362.0" width="1.0" height="37.8" fill="url(#st3)" opacity="0.38"/>
<rect x="446.5" y="362.0" width="1.0" height="37.8" fill="url(#sd)" opacity="0.11"/>
<rect x="447.5" y="362.0" width="1.0" height="37.8" fill="url(#st1)" opacity="0.52"/>
<rect x="447.5" y="362.0" width="1.0" height="37.8" fill="url(#sd)" opacity="0.09"/>
<rect x="448.5" y="362.0" width="1.0" height="37.8" fill="url(#st1)" opacity="0.58"/>
<rect x="449.5" y="362.0" width="1.0" height="37.8" fill="url(#st2)" opacity="0.41"/>
<rect x="449.5" y="362.0" width="1.0" height="37.8" fill="url(#sd)" opacity="0.14"/>
<rect x="450.5" y="362.0" width="1.0" height="37.8" fill="url(#st2)" opacity="0.25"/>
<rect x="450.5" y="362.0" width="1.0" height="37.8" fill="url(#sd)" opacity="0.10"/>
<rect x="451.5" y="362.0" width="1.0" height="37.8" fill="url(#sd)" opacity="0.08"/>
<rect x="452.5" y="362.0" width="1.0" height="37.8" fill="url(#sd)" opacity="0.11"/>
<rect x="453.5" y="362.0" width="1.0" height="37.8" fill="url(#st0)" opacity="0.33"/>
<rect x="453.5" y="362.0" width="1.0" height="37.8" fill="url(#sd)" opacity="0.14"/>
<rect x="454.5" y="362.0" width="1.0" height="37.8" fill="url(#sd)" opacity="0.10"/>
<rect x="455.5" y="362.0" width="1.0" height="37.8" fill="url(#st1)" opacity="0.42"/>
<rect x="455.5" y="362.0" width="1.0" height="37.8" fill="url(#sd)" opacity="0.15"/>
<rect x="456.5" y="362.0" width="1.0" height="37.8" fill="url(#st3)" opacity="0.43"/>
<rect x="456.5" y="362.0" width="1.0" height="37.8" fill="url(#sd)" opacity="0.15"/>
<rect x="457.5" y="362.0" width="1.0" height="37.8" fill="url(#st1)" opacity="0.57"/>
<rect x="457.5" y="362.0" width="1.0" height="37.8" fill="url(#sd)" opacity="0.13"/>
<rect x="458.5" y="362.0" width="1.0" height="37.8" fill="url(#st2)" opacity="0.43"/>
<rect x="459.5" y="362.0" width="1.0" height="37.8" fill="url(#st1)" opacity="0.56"/>
<rect x="460.5" y="362.0" width="1.0" height="37.8" fill="url(#st1)" opacity="0.56"/>
<rect x="461.5" y="362.0" width="1.0" height="37.8" fill="url(#st1)" opacity="0.54"/>
<rect x="462.5" y="362.0" width="1.0" height="37.8" fill="url(#st4)" opacity="0.28"/>
<rect x="462.5" y="362.0" width="1.0" height="37.8" fill="url(#sd)" opacity="0.09"/>
<rect x="464.5" y="362.0" width="1.0" height="37.8" fill="url(#st2)" opacity="0.31"/>
<rect x="465.5" y="362.0" width="1.0" height="37.8" fill="url(#st3)" opacity="0.49"/>
<rect x="465.5" y="362.0" width="1.0" height="37.8" fill="url(#sd)" opacity="0.09"/>
<rect x="466.5" y="362.0" width="1.0" height="37.8" fill="url(#st4)" opacity="0.60"/>
<rect x="467.5" y="362.0" width="1.0" height="37.8" fill="url(#st0)" opacity="0.30"/>
<rect x="468.5" y="362.0" width="1.0" height="37.8" fill="url(#st3)" opacity="0.42"/>
<rect x="469.5" y="362.0" width="1.0" height="37.8" fill="url(#st0)" opacity="0.44"/>
<rect x="470.5" y="362.0" width="1.0" height="37.8" fill="url(#st4)" opacity="0.49"/>
<rect x="471.5" y="362.0" width="1.0" height="37.8" fill="url(#st2)" opacity="0.50"/>
<rect x="472.5" y="362.0" width="1.0" height="37.8" fill="url(#st0)" opacity="0.22"/>
<rect x="472.5" y="362.0" width="1.0" height="37.8" fill="url(#sd)" opacity="0.08"/>
<rect x="473.5" y="362.0" width="1.0" height="37.8" fill="url(#st0)" opacity="0.36"/>
<rect x="473.5" y="362.0" width="1.0" height="37.8" fill="url(#sd)" opacity="0.14"/>
<rect x="474.5" y="362.0" width="1.0" height="37.8" fill="url(#st0)" opacity="0.37"/>
<rect x="474.5" y="362.0" width="1.0" height="37.8" fill="url(#sd)" opacity="0.11"/>
<rect x="475.5" y="362.0" width="1.0" height="37.8" fill="url(#st2)" opacity="0.42"/>
<rect x="475.5" y="362.0" width="1.0" height="37.8" fill="url(#sd)" opacity="0.16"/>
<rect x="476.5" y="362.0" width="1.0" height="37.8" fill="url(#st4)" opacity="0.40"/>
<rect x="476.5" y="362.0" width="1.0" height="37.8" fill="url(#sd)" opacity="0.09"/>
<rect x="477.5" y="362.0" width="1.0" height="37.8" fill="url(#st3)" opacity="0.54"/>
<rect x="477.5" y="362.0" width="1.0" height="37.8" fill="url(#sd)" opacity="0.15"/>
<rect x="478.5" y="362.0" width="1.0" height="37.8" fill="url(#st0)" opacity="0.35"/>
<rect x="478.5" y="362.0" width="1.0" height="37.8" fill="url(#sd)" opacity="0.08"/>
<rect x="479.5" y="362.0" width="1.0" height="37.8" fill="url(#st1)" opacity="0.40"/>
<rect x="480.5" y="362.0" width="1.0" height="37.8" fill="url(#st4)" opacity="0.38"/>
<rect x="481.5" y="362.0" width="1.0" height="37.8" fill="url(#st3)" opacity="0.27"/>
<rect x="481.5" y="362.0" width="1.0" height="37.8" fill="url(#sd)" opacity="0.09"/>
<rect x="482.5" y="362.0" width="1.0" height="37.8" fill="url(#sd)" opacity="0.08"/>
<rect x="483.5" y="362.0" width="1.0" height="37.8" fill="url(#st1)" opacity="0.25"/>
<rect x="483.5" y="362.0" width="1.0" height="37.8" fill="url(#sd)" opacity="0.10"/>
<rect x="484.5" y="362.0" width="1.0" height="37.8" fill="url(#st0)" opacity="0.33"/>
<rect x="485.5" y="362.0" width="1.0" height="37.8" fill="url(#sd)" opacity="0.13"/>
<rect x="486.5" y="362.0" width="1.0" height="37.8" fill="url(#st2)" opacity="0.21"/>
<rect x="486.5" y="362.0" width="1.0" height="37.8" fill="url(#sd)" opacity="0.09"/>
<rect x="487.5" y="362.0" width="1.0" height="37.8" fill="url(#st0)" opacity="0.27"/>
<rect x="488.5" y="362.0" width="1.0" height="37.8" fill="url(#st2)" opacity="0.21"/>
<rect x="488.5" y="362.0" width="1.0" height="37.8" fill="url(#sd)" opacity="0.12"/>
<rect x="489.5" y="362.0" width="1.0" height="37.8" fill="url(#st1)" opacity="0.23"/>
<rect x="489.5" y="362.0" width="1.0" height="37.8" fill="url(#sd)" opacity="0.12"/>
<rect x="490.5" y="362.0" width="1.0" height="37.8" fill="url(#st3)" opacity="0.37"/>
<rect x="490.5" y="362.0" width="1.0" height="37.8" fill="url(#sd)" opacity="0.12"/>
<rect x="491.5" y="362.0" width="1.0" height="37.8" fill="url(#st4)" opacity="0.52"/>
<rect x="491.5" y="362.0" width="1.0" height="37.8" fill="url(#sd)" opacity="0.15"/>
<rect x="492.5" y="362.0" width="1.0" height="37.8" fill="url(#st2)" opacity="0.27"/>
<rect x="493.5" y="362.0" width="1.0" height="37.8" fill="url(#st0)" opacity="0.33"/>
<rect x="494.5" y="362.0" width="1.0" height="37.8" fill="url(#st0)" opacity="0.41"/>
<rect x="494.5" y="362.0" width="1.0" height="37.8" fill="url(#sd)" opacity="0.09"/>
<rect x="495.5" y="362.0" width="1.0" height="37.8" fill="url(#sd)" opacity="0.08"/>
<rect x="496.5" y="362.0" width="1.0" height="37.8" fill="url(#st3)" opacity="0.23"/>
<rect x="496.5" y="362.0" width="1.0" height="37.8" fill="url(#sd)" opacity="0.10"/>
<rect x="497.5" y="362.0" width="1.0" height="37.8" fill="url(#st0)" opacity="0.33"/>
<rect x="498.5" y="362.0" width="1.0" height="37.8" fill="url(#st4)" opacity="0.42"/>
<rect x="498.5" y="362.0" width="1.0" height="37.8" fill="url(#sd)" opacity="0.11"/>
<rect x="499.5" y="362.0" width="1.0" height="37.8" fill="url(#st3)" opacity="0.20"/>
<rect x="500.5" y="362.0" width="1.0" height="37.8" fill="url(#st4)" opacity="0.20"/>
<rect x="500.5" y="362.0" width="1.0" height="37.8" fill="url(#sd)" opacity="0.08"/>
<rect x="501.5" y="362.0" width="1.0" height="37.8" fill="url(#st2)" opacity="0.36"/>
<rect x="502.5" y="362.0" width="1.0" height="37.8" fill="url(#st2)" opacity="0.19"/>
<rect x="502.5" y="362.0" width="1.0" height="37.8" fill="url(#sd)" opacity="0.11"/>
<rect x="503.5" y="362.0" width="1.0" height="37.8" fill="url(#st2)" opacity="0.25"/>
<rect x="503.5" y="362.0" width="1.0" height="37.8" fill="url(#sd)" opacity="0.08"/>
<rect x="504.5" y="362.0" width="1.0" height="37.8" fill="url(#st3)" opacity="0.30"/>
<rect x="504.5" y="362.0" width="1.0" height="37.8" fill="url(#sd)" opacity="0.14"/>
<rect x="505.5" y="362.0" width="1.0" height="37.8" fill="url(#st2)" opacity="0.27"/>
<rect x="505.5" y="362.0" width="1.0" height="37.8" fill="url(#sd)" opacity="0.14"/>
<rect x="506.5" y="362.0" width="1.0" height="37.8" fill="url(#st3)" opacity="0.23"/>
<rect x="506.5" y="362.0" width="1.0" height="37.8" fill="url(#sd)" opacity="0.13"/>
<rect x="507.5" y="362.0" width="1.0" height="37.8" fill="url(#sd)" opacity="0.09"/>
<rect x="508.5" y="362.0" width="1.0" height="37.8" fill="url(#sd)" opacity="0.09"/>
<rect x="509.5" y="362.0" width="1.0" height="37.8" fill="url(#st1)" opacity="0.27"/>
<rect x="509.5" y="362.0" width="1.0" height="37.8" fill="url(#sd)" opacity="0.11"/>
<rect x="510.5" y="362.0" width="1.0" height="37.8" fill="url(#st1)" opacity="0.18"/>
<rect x="510.5" y="362.0" width="1.0" height="37.8" fill="url(#sd)" opacity="0.16"/>
<rect x="511.5" y="362.0" width="1.0" height="37.8" fill="url(#st4)" opacity="0.34"/>
<rect x="511.5" y="362.0" width="1.0" height="37.8" fill="url(#sd)" opacity="0.11"/>
<rect x="512.5" y="362.0" width="1.0" height="37.8" fill="url(#st3)" opacity="0.27"/>
<rect x="513.5" y="362.0" width="1.0" height="37.8" fill="url(#st4)" opacity="0.21"/>
<rect x="513.5" y="362.0" width="1.0" height="37.8" fill="url(#sd)" opacity="0.08"/>
<rect x="514.5" y="362.0" width="1.0" height="37.8" fill="url(#st1)" opacity="0.47"/>
<rect x="515.5" y="362.0" width="1.0" height="37.8" fill="url(#st2)" opacity="0.46"/>
<rect x="515.5" y="362.0" width="1.0" height="37.8" fill="url(#sd)" opacity="0.07"/>
<rect x="516.5" y="362.0" width="1.0" height="37.8" fill="url(#st0)" opacity="0.53"/>
<rect x="517.5" y="362.0" width="1.0" height="37.8" fill="url(#st4)" opacity="0.30"/>
<rect x="517.5" y="362.0" width="1.0" height="37.8" fill="url(#sd)" opacity="0.08"/>
<rect x="518.5" y="362.0" width="1.0" height="37.8" fill="url(#st0)" opacity="0.22"/>
<rect x="518.5" y="362.0" width="1.0" height="37.8" fill="url(#sd)" opacity="0.11"/>
<rect x="519.5" y="362.0" width="1.0" height="37.8" fill="url(#st0)" opacity="0.47"/>
<rect x="520.5" y="362.0" width="1.0" height="37.8" fill="url(#st2)" opacity="0.33"/>
<rect x="521.5" y="362.0" width="1.0" height="37.8" fill="url(#st0)" opacity="0.47"/>
<rect x="521.5" y="362.0" width="1.0" height="37.8" fill="url(#sd)" opacity="0.09"/>
<rect x="522.5" y="362.0" width="1.0" height="37.8" fill="url(#st1)" opacity="0.51"/>
<rect x="522.5" y="362.0" width="1.0" height="37.8" fill="url(#sd)" opacity="0.10"/>
<rect x="523.5" y="362.0" width="1.0" height="37.8" fill="url(#st2)" opacity="0.47"/>
<rect x="523.5" y="362.0" width="1.0" height="37.8" fill="url(#sd)" opacity="0.13"/>
<rect x="524.5" y="362.0" width="1.0" height="37.8" fill="url(#st0)" opacity="0.23"/>
<rect x="524.5" y="362.0" width="1.0" height="37.8" fill="url(#sd)" opacity="0.16"/>
<rect x="525.5" y="362.0" width="1.0" height="37.8" fill="url(#st2)" opacity="0.21"/>
<rect x="525.5" y="362.0" width="1.0" height="37.8" fill="url(#sd)" opacity="0.09"/>
<rect x="526.5" y="362.0" width="1.0" height="37.8" fill="url(#st0)" opacity="0.24"/>
<rect x="526.5" y="362.0" width="1.0" height="37.8" fill="url(#sd)" opacity="0.14"/>
<rect x="529.5" y="362.0" width="1.0" height="37.8" fill="url(#st3)" opacity="0.32"/>
<rect x="529.5" y="362.0" width="1.0" height="37.8" fill="url(#sd)" opacity="0.14"/>
<rect x="530.5" y="362.0" width="1.0" height="37.8" fill="url(#sd)" opacity="0.10"/>
<rect x="532.5" y="362.0" width="1.0" height="37.8" fill="url(#st0)" opacity="0.28"/>
<rect x="533.5" y="362.0" width="1.0" height="37.8" fill="url(#st2)" opacity="0.38"/>
<rect x="534.5" y="362.0" width="1.0" height="37.8" fill="url(#st0)" opacity="0.54"/>
<rect x="534.5" y="362.0" width="1.0" height="37.8" fill="url(#sd)" opacity="0.08"/>
<rect x="535.5" y="362.0" width="1.0" height="37.8" fill="url(#st4)" opacity="0.29"/>
<rect x="536.5" y="362.0" width="1.0" height="37.8" fill="url(#st4)" opacity="0.33"/>
<rect x="537.5" y="362.0" width="1.0" height="37.8" fill="url(#st2)" opacity="0.28"/>
<rect x="538.5" y="362.0" width="1.0" height="37.8" fill="url(#st3)" opacity="0.33"/>
<rect x="538.5" y="362.0" width="1.0" height="37.8" fill="url(#sd)" opacity="0.14"/>
<rect x="539.5" y="362.0" width="1.0" height="37.8" fill="url(#sd)" opacity="0.16"/>
<rect x="540.5" y="362.0" width="1.0" height="37.8" fill="url(#st1)" opacity="0.45"/>
<rect x="540.5" y="362.0" width="1.0" height="37.8" fill="url(#sd)" opacity="0.07"/>
<rect x="541.5" y="362.0" width="1.0" height="37.8" fill="url(#st4)" opacity="0.56"/>
<rect x="542.5" y="362.0" width="1.0" height="37.8" fill="url(#st3)" opacity="0.26"/>
<rect x="543.5" y="362.0" width="1.0" height="37.8" fill="url(#st4)" opacity="0.22"/>
<rect x="543.5" y="362.0" width="1.0" height="37.8" fill="url(#sd)" opacity="0.09"/>
<rect x="544.5" y="362.0" width="1.0" height="37.8" fill="url(#st1)" opacity="0.34"/>
<rect x="545.5" y="362.0" width="1.0" height="37.8" fill="url(#st3)" opacity="0.44"/>
<rect x="546.5" y="362.0" width="1.0" height="37.8" fill="url(#st0)" opacity="0.34"/>
<rect x="546.5" y="362.0" width="1.0" height="37.8" fill="url(#sd)" opacity="0.11"/>
<rect x="547.5" y="362.0" width="1.0" height="37.8" fill="url(#st0)" opacity="0.19"/>
<rect x="548.5" y="362.0" width="1.0" height="37.8" fill="url(#st1)" opacity="0.25"/>
<rect x="550.5" y="362.0" width="1.0" height="37.8" fill="url(#st1)" opacity="0.23"/>
<rect x="550.5" y="362.0" width="1.0" height="37.8" fill="url(#sd)" opacity="0.09"/>
<rect x="551.5" y="362.0" width="1.0" height="37.8" fill="url(#st2)" opacity="0.41"/>
<rect x="551.5" y="362.0" width="1.0" height="37.8" fill="url(#sd)" opacity="0.09"/>
<rect x="552.5" y="362.0" width="1.0" height="37.8" fill="url(#st2)" opacity="0.40"/>
<rect x="553.5" y="362.0" width="1.0" height="37.8" fill="url(#st4)" opacity="0.45"/>
<rect x="553.5" y="362.0" width="1.0" height="37.8" fill="url(#sd)" opacity="0.09"/>
<rect x="554.5" y="362.0" width="1.0" height="37.8" fill="url(#st2)" opacity="0.23"/>
<rect x="554.5" y="362.0" width="1.0" height="37.8" fill="url(#sd)" opacity="0.13"/>
<rect x="555.5" y="362.0" width="1.0" height="37.8" fill="url(#st3)" opacity="0.32"/>
<rect x="555.5" y="362.0" width="1.0" height="37.8" fill="url(#sd)" opacity="0.11"/>
<rect x="556.5" y="362.0" width="1.0" height="37.8" fill="url(#st4)" opacity="0.48"/>
<rect x="556.5" y="362.0" width="1.0" height="37.8" fill="url(#sd)" opacity="0.11"/>
<rect x="557.5" y="362.0" width="1.0" height="37.8" fill="url(#st2)" opacity="0.31"/>
<rect x="557.5" y="362.0" width="1.0" height="37.8" fill="url(#sd)" opacity="0.08"/>
<rect x="558.5" y="362.0" width="1.0" height="37.8" fill="url(#sd)" opacity="0.08"/>
<rect x="559.5" y="362.0" width="1.0" height="37.8" fill="url(#st1)" opacity="0.23"/>
<rect x="559.5" y="362.0" width="1.0" height="37.8" fill="url(#sd)" opacity="0.16"/>
<rect x="560.5" y="362.0" width="1.0" height="37.8" fill="url(#st0)" opacity="0.20"/>
<rect x="560.5" y="362.0" width="1.0" height="37.8" fill="url(#sd)" opacity="0.08"/>
<rect x="561.5" y="362.0" width="1.0" height="37.8" fill="url(#sd)" opacity="0.15"/>
<rect x="562.5" y="362.0" width="1.0" height="37.8" fill="url(#sd)" opacity="0.16"/>
<rect x="563.5" y="362.0" width="1.0" height="37.8" fill="url(#st4)" opacity="0.32"/>
<rect x="563.5" y="362.0" width="1.0" height="37.8" fill="url(#sd)" opacity="0.11"/>
<rect x="564.5" y="362.0" width="1.0" height="37.8" fill="url(#st4)" opacity="0.40"/>
<rect x="564.5" y="362.0" width="1.0" height="37.8" fill="url(#sd)" opacity="0.08"/>
<rect x="565.5" y="362.0" width="1.0" height="37.8" fill="url(#st4)" opacity="0.37"/>
<rect x="565.5" y="362.0" width="1.0" height="37.8" fill="url(#sd)" opacity="0.12"/>
<rect x="566.5" y="362.0" width="1.0" height="37.8" fill="url(#st4)" opacity="0.47"/>
<rect x="567.5" y="362.0" width="1.0" height="37.8" fill="url(#st3)" opacity="0.39"/>
<rect x="568.5" y="362.0" width="1.0" height="37.8" fill="url(#st0)" opacity="0.47"/>
<rect x="568.5" y="362.0" width="1.0" height="37.8" fill="url(#sd)" opacity="0.12"/>
<rect x="569.5" y="362.0" width="1.0" height="37.8" fill="url(#st0)" opacity="0.28"/>
<rect x="570.5" y="362.0" width="1.0" height="37.8" fill="url(#st1)" opacity="0.41"/>
<rect x="571.5" y="362.0" width="1.0" height="37.8" fill="url(#st3)" opacity="0.51"/>
<rect x="572.5" y="362.0" width="1.0" height="37.8" fill="url(#st1)" opacity="0.48"/>
<rect x="573.5" y="362.0" width="1.0" height="37.8" fill="url(#st1)" opacity="0.46"/>
<rect x="573.5" y="362.0" width="1.0" height="37.8" fill="url(#sd)" opacity="0.14"/>
<rect x="574.5" y="362.0" width="1.0" height="37.8" fill="url(#st4)" opacity="0.46"/>
<rect x="574.5" y="362.0" width="1.0" height="37.8" fill="url(#sd)" opacity="0.12"/>
<rect x="575.5" y="362.0" width="1.0" height="37.8" fill="url(#st1)" opacity="0.34"/>
<rect x="575.5" y="362.0" width="1.0" height="37.8" fill="url(#sd)" opacity="0.12"/>
<rect x="576.5" y="362.0" width="1.0" height="37.8" fill="url(#st4)" opacity="0.43"/>
<rect x="576.5" y="362.0" width="1.0" height="37.8" fill="url(#sd)" opacity="0.09"/>
<rect x="577.5" y="362.0" width="1.0" height="37.8" fill="url(#st0)" opacity="0.40"/>
<rect x="577.5" y="362.0" width="1.0" height="37.8" fill="url(#sd)" opacity="0.14"/>
<rect x="578.5" y="362.0" width="1.0" height="37.8" fill="url(#st0)" opacity="0.53"/>
<rect x="578.5" y="362.0" width="1.0" height="37.8" fill="url(#sd)" opacity="0.12"/>
<rect x="579.5" y="362.0" width="1.0" height="37.8" fill="url(#st0)" opacity="0.28"/>
<rect x="580.5" y="362.0" width="1.0" height="37.8" fill="url(#st1)" opacity="0.18"/>
<g shape-rendering="crispEdges" stroke="#000" stroke-width="1" fill="none">
<rect x="120.5" y="30.5" width="461.0" height="142.0"/>
<line x1="120.5" y1="172.5" x2="120.5" y2="181.0"/>
<line x1="134.5" y1="172.5" x2="134.5" y2="177.0"/>
<line x1="149.5" y1="172.5" x2="149.5" y2="177.0"/>
<line x1="164.5" y1="172.5" x2="164.5" y2="177.0"/>
<line x1="179.5" y1="172.5" x2="179.5" y2="177.0"/>
<line x1="194.5" y1="172.5" x2="194.5" y2="177.0"/>
<line x1="209.5" y1="172.5" x2="209.5" y2="177.0"/>
<line x1="224.5" y1="172.5" x2="224.5" y2="177.0"/>
<line x1="238.5" y1="172.5" x2="238.5" y2="177.0"/>
<line x1="253.5" y1="172.5" x2="253.5" y2="177.0"/>
<line x1="268.5" y1="172.5" x2="268.5" y2="181.0"/>
<line x1="283.5" y1="172.5" x2="283.5" y2="177.0"/>
<line x1="298.5" y1="172.5" x2="298.5" y2="177.0"/>
<line x1="313.5" y1="172.5" x2="313.5" y2="177.0"/>
<line x1="328.5" y1="172.5" x2="328.5" y2="177.0"/>
<line x1="343.5" y1="172.5" x2="343.5" y2="177.0"/>
<line x1="357.5" y1="172.5" x2="357.5" y2="177.0"/>
<line x1="372.5" y1="172.5" x2="372.5" y2="177.0"/>
<line x1="387.5" y1="172.5" x2="387.5" y2="177.0"/>
<line x1="402.5" y1="172.5" x2="402.5" y2="177.0"/>
<line x1="417.5" y1="172.5" x2="417.5" y2="181.0"/>
<line x1="432.5" y1="172.5" x2="432.5" y2="177.0"/>
<line x1="447.5" y1="172.5" x2="447.5" y2="177.0"/>
<line x1="462.5" y1="172.5" x2="462.5" y2="177.0"/>
<line x1="476.5" y1="172.5" x2="476.5" y2="177.0"/>
<line x1="491.5" y1="172.5" x2="491.5" y2="177.0"/>
<line x1="506.5" y1="172.5" x2="506.5" y2="177.0"/>
<line x1="521.5" y1="172.5" x2="521.5" y2="177.0"/>
<line x1="536.5" y1="172.5" x2="536.5" y2="177.0"/>
<line x1="551.5" y1="172.5" x2="551.5" y2="177.0"/>
<line x1="566.5" y1="172.5" x2="566.5" y2="181.0"/>
<line x1="581.5" y1="172.5" x2="581.5" y2="177.0"/>
</g>
<g shape-rendering="crispEdges" stroke="#000" stroke-width="1" fill="none">
<rect x="120.5" y="184.5" width="461.0" height="142.0"/>
<line x1="120.5" y1="326.5" x2="120.5" y2="335.0"/>
<line x1="134.5" y1="326.5" x2="134.5" y2="331.0"/>
<line x1="149.5" y1="326.5" x2="149.5" y2="331.0"/>
<line x1="164.5" y1="326.5" x2="164.5" y2="331.0"/>
<line x1="179.5" y1="326.5" x2="179.5" y2="331.0"/>
<line x1="194.5" y1="326.5" x2="194.5" y2="331.0"/>
<line x1="209.5" y1="326.5" x2="209.5" y2="331.0"/>
<line x1="224.5" y1="326.5" x2="224.5" y2="331.0"/>
<line x1="238.5" y1="326.5" x2="238.5" y2="331.0"/>
<line x1="253.5" y1="326.5" x2="253.5" y2="331.0"/>
<line x1="268.5" y1="326.5" x2="268.5" y2="335.0"/>
<line x1="283.5" y1="326.5" x2="283.5" y2="331.0"/>
<line x1="298.5" y1="326.5" x2="298.5" y2="331.0"/>
<line x1="313.5" y1="326.5" x2="313.5" y2="331.0"/>
<line x1="328.5" y1="326.5" x2="328.5" y2="331.0"/>
<line x1="343.5" y1="326.5" x2="343.5" y2="331.0"/>
<line x1="357.5" y1="326.5" x2="357.5" y2="331.0"/>
<line x1="372.5" y1="326.5" x2="372.5" y2="331.0"/>
<line x1="387.5" y1="326.5" x2="387.5" y2="331.0"/>
<line x1="402.5" y1="326.5" x2="402.5" y2="331.0"/>
<line x1="417.5" y1="326.5" x2="417.5" y2="335.0"/>
<line x1="432.5" y1="326.5" x2="432.5" y2="331.0"/>
<line x1="447.5" y1="326.5" x2="447.5" y2="331.0"/>
<line x1="462.5" y1="326.5" x2="462.5" y2="331.0"/>
<line x1="476.5" y1="326.5" x2="476.5" y2="331.0"/>
<line x1="491.5" y1="326.5" x2="491.5" y2="331.0"/>
<line x1="506.5" y1="326.5" x2="506.5" y2="331.0"/>
<line x1="521.5" y1="326.5" x2="521.5" y2="331.0"/>
<line x1="536.5" y1="326.5" x2="536.5" y2="331.0"/>
<line x1="551.5" y1="326.5" x2="551.5" y2="331.0"/>
<line x1="566.5" y1="326.5" x2="566.5" y2="335.0"/>
<line x1="581.5" y1="326.5" x2="581.5" y2="331.0"/>
</g>
<g shape-rendering="crispEdges" stroke="#000" stroke-width="1" fill="none">
<rect x="120.5" y="338.5" width="461.0" height="142.0"/>
<line x1="120.5" y1="480.5" x2="120.5" y2="489.0"/>
<line x1="134.5" y1="480.5" x2="134.5" y2="485.0"/>
<line x1="149.5" y1="480.5" x2="149.5" y2="485.0"/>
<line x1="164.5" y1="480.5" x2="164.5" y2="485.0"/>
<line x1="179.5" y1="480.5" x2="179.5" y2="485.0"/>
<line x1="194.5" y1="480.5" x2="194.5" y2="485.0"/>
<line x1="209.5" y1="480.5" x2="209.5" y2="485.0"/>
<line x1="224.5" y1="480.5" x2="224.5" y2="485.0"/>
<line x1="238.5" y1="480.5" x2="238.5" y2="485.0"/>
<line x1="253.5" y1="480.5" x2="253.5" y2="485.0"/>
<line x1="268.5" y1="480.5" x2="268.5" y2="489.0"/>
<line x1="283.5" y1="480.5" x2="283.5" y2="485.0"/>
<line x1="298.5" y1="480.5" x2="298.5" y2="485.0"/>
<line x1="313.5" y1="480.5" x2="313.5" y2="485.0"/>
<line x1="328.5" y1="480.5" x2="328.5" y2="485.0"/>
<line x1="343.5" y1="480.5" x2="343.5" y2="485.0"/>
<line x1="357.5" y1="480.5" x2="357.5" y2="485.0"/>
<line x1="372.5" y1="480.5" x2="372.5" y2="485.0"/>
<line x1="387.5" y1="480.5" x2="387.5" y2="485.0"/>
<line x1="402.5" y1="480.5" x2="402.5" y2="485.0"/>
<line x1="417.5" y1="480.5" x2="417.5" y2="489.0"/>
<line x1="432.5" y1="480.5" x2="432.5" y2="485.0"/>
<line x1="447.5" y1="480.5" x2="447.5" y2="485.0"/>
<line x1="462.5" y1="480.5" x2="462.5" y2="485.0"/>
<line x1="476.5" y1="480.5" x2="476.5" y2="485.0"/>
<line x1="491.5" y1="480.5" x2="491.5" y2="485.0"/>
<line x1="506.5" y1="480.5" x2="506.5" y2="485.0"/>
<line x1="521.5" y1="480.5" x2="521.5" y2="485.0"/>
<line x1="536.5" y1="480.5" x2="536.5" y2="485.0"/>
<line x1="551.5" y1="480.5" x2="551.5" y2="485.0"/>
<line x1="566.5" y1="480.5" x2="566.5" y2="489.0"/>
<line x1="581.5" y1="480.5" x2="581.5" y2="485.0"/>
</g>
<g shape-rendering="crispEdges" stroke="#000" stroke-width="1">
<line x1="112" y1="165.5" x2="120.5" y2="165.5"/>
<line x1="112" y1="134.5" x2="120.5" y2="134.5"/>
<line x1="112" y1="103.5" x2="120.5" y2="103.5"/>
<line x1="112" y1="72.5" x2="120.5" y2="72.5"/>
<line x1="112" y1="41.5" x2="120.5" y2="41.5"/>
<line x1="116" y1="149.5" x2="120.5" y2="149.5"/>
<line x1="116" y1="118.5" x2="120.5" y2="118.5"/>
<line x1="116" y1="87.5" x2="120.5" y2="87.5"/>
<line x1="116" y1="56.5" x2="120.5" y2="56.5"/>
</g>
<g shape-rendering="crispEdges" stroke="#000" stroke-width="1">
<line x1="112" y1="217.5" x2="120.5" y2="217.5"/>
<line x1="112" y1="252.5" x2="120.5" y2="252.5"/>
<line x1="112" y1="287.5" x2="120.5" y2="287.5"/>
<line x1="112" y1="322.5" x2="120.5" y2="322.5"/>
<line x1="116" y1="315.5" x2="120.5" y2="315.5"/>
<line x1="116" y1="308.5" x2="120.5" y2="308.5"/>
<line x1="116" y1="301.5" x2="120.5" y2="301.5"/>
<line x1="116" y1="294.5" x2="120.5" y2="294.5"/>
<line x1="116" y1="280.5" x2="120.5" y2="280.5"/>
<line x1="116" y1="273.5" x2="120.5" y2="273.5"/>
<line x1="116" y1="266.5" x2="120.5" y2="266.5"/>
<line x1="116" y1="259.5" x2="120.5" y2="259.5"/>
<line x1="116" y1="245.5" x2="120.5" y2="245.5"/>
<line x1="116" y1="238.5" x2="120.5" y2="238.5"/>
<line x1="116" y1="231.5" x2="120.5" y2="231.5"/>
<line x1="116" y1="224.5" x2="120.5" y2="224.5"/>
<line x1="116" y1="210.5" x2="120.5" y2="210.5"/>
<line x1="116" y1="203.5" x2="120.5" y2="203.5"/>
<line x1="116" y1="196.5" x2="120.5" y2="196.5"/>
<line x1="116" y1="189.5" x2="120.5" y2="189.5"/>
</g>
<g stroke="#000" stroke-width="1" shape-rendering="crispEdges">
<line x1="116" y1="479.5" x2="120" y2="479.5"/>
<line x1="116" y1="477.5" x2="120" y2="477.5"/>
<line x1="116" y1="475.5" x2="120" y2="475.5"/>
<line x1="116" y1="471.5" x2="120" y2="471.5"/>
<line x1="116" y1="469.5" x2="120" y2="469.5"/>
<line x1="116" y1="468.5" x2="120" y2="468.5"/>
<line x1="116" y1="466.5" x2="120" y2="466.5"/>
<line x1="116" y1="464.5" x2="120" y2="464.5"/>
<line x1="116" y1="462.5" x2="120" y2="462.5"/>
<line x1="116" y1="460.5" x2="120" y2="460.5"/>
<line x1="116" y1="458.5" x2="120" y2="458.5"/>
<line x1="116" y1="456.5" x2="120" y2="456.5"/>
<line x1="116" y1="453.5" x2="120" y2="453.5"/>
<line x1="116" y1="451.5" x2="120" y2="451.5"/>
<line x1="116" y1="449.5" x2="120" y2="449.5"/>
<line x1="116" y1="447.5" x2="120" y2="447.5"/>
<line x1="116" y1="445.5" x2="120" y2="445.5"/>
<line x1="116" y1="444.5" x2="120" y2="444.5"/>
<line x1="116" y1="442.5" x2="120" y2="442.5"/>
<line x1="116" y1="440.5" x2="120" y2="440.5"/>
<line x1="116" y1="438.5" x2="120" y2="438.5"/>
<line x1="116" y1="434.5" x2="120" y2="434.5"/>
<line x1="116" y1="432.5" x2="120" y2="432.5"/>
<line x1="116" y1="431.5" x2="120" y2="431.5"/>
<line x1="116" y1="429.5" x2="120" y2="429.5"/>
<line x1="116" y1="427.5" x2="120" y2="427.5"/>
<line x1="116" y1="425.5" x2="120" y2="425.5"/>
<line x1="116" y1="423.5" x2="120" y2="423.5"/>
<line x1="116" y1="421.5" x2="120" y2="421.5"/>
<line x1="116" y1="420.5" x2="120" y2="420.5"/>
<line x1="116" y1="416.5" x2="120" y2="416.5"/>
<line x1="116" y1="414.5" x2="120" y2="414.5"/>
<line x1="116" y1="412.5" x2="120" y2="412.5"/>
<line x1="116" y1="410.5" x2="120" y2="410.5"/>
<line x1="116" y1="409.5" x2="120" y2="409.5"/>
<line x1="116" y1="407.5" x2="120" y2="407.5"/>
<line x1="116" y1="405.5" x2="120" y2="405.5"/>
<line x1="116" y1="403.5" x2="120" y2="403.5"/>
<line x1="116" y1="401.5" x2="120" y2="401.5"/>
<line x1="116" y1="397.5" x2="120" y2="397.5"/>
<line x1="116" y1="396.5" x2="120" y2="396.5"/>
<line x1="116" y1="394.5" x2="120" y2="394.5"/>
<line x1="116" y1="392.5" x2="120" y2="392.5"/>
<line x1="116" y1="390.5" x2="120" y2="390.5"/>
<line x1="116" y1="388.5" x2="120" y2="388.5"/>
<line x1="116" y1="386.5" x2="120" y2="386.5"/>
<line x1="116" y1="385.5" x2="120" y2="385.5"/>
<line x1="116" y1="383.5" x2="120" y2="383.5"/>
<line x1="116" y1="379.5" x2="120" y2="379.5"/>
<line x1="116" y1="377.5" x2="120" y2="377.5"/>
<line x1="116" y1="375.5" x2="120" y2="375.5"/>
<line x1="116" y1="373.5" x2="120" y2="373.5"/>
<line x1="116" y1="372.5" x2="120" y2="372.5"/>
<line x1="116" y1="370.5" x2="120" y2="370.5"/>
<line x1="116" y1="368.5" x2="120" y2="368.5"/>
<line x1="116" y1="366.5" x2="120" y2="366.5"/>
<line x1="116" y1="364.5" x2="120" y2="364.5"/>
<line x1="116" y1="361.5" x2="120" y2="361.5"/>
<line x1="116" y1="359.5" x2="120" y2="359.5"/>
<line x1="116" y1="357.5" x2="120" y2="357.5"/>
<line x1="116" y1="355.5" x2="120" y2="355.5"/>
<line x1="116" y1="353.5" x2="120" y2="353.5"/>
<line x1="116" y1="351.5" x2="120" y2="351.5"/>
<line x1="116" y1="349.5" x2="120" y2="349.5"/>
<line x1="116" y1="348.5" x2="120" y2="348.5"/>
<line x1="116" y1="346.5" x2="120" y2="346.5"/>
<line x1="116" y1="342.5" x2="120" y2="342.5"/>
<line x1="116" y1="340.5" x2="120" y2="340.5"/>
<line x1="116" y1="338.5" x2="120" y2="338.5"/>
</g>
<g shape-rendering="crispEdges" stroke="#000" stroke-width="1">
<line x1="112" y1="473.5" x2="120.5" y2="473.5"/>
<line x1="112" y1="455.5" x2="120.5" y2="455.5"/>
<line x1="112" y1="436.5" x2="120.5" y2="436.5"/>
<line x1="112" y1="418.5" x2="120.5" y2="418.5"/>
<line x1="112" y1="399.5" x2="120.5" y2="399.5"/>
<line x1="112" y1="381.5" x2="120.5" y2="381.5"/>
<line x1="112" y1="362.5" x2="120.5" y2="362.5"/>
<line x1="112" y1="344.5" x2="120.5" y2="344.5"/>
</g>
<polyline points="120.5,154.5 121.5,154.5 121.5,149.5 124.5,149.5 125.5,145.5 126.5,145.5 127.5,149.5 130.5,149.5 131.5,154.5 132.5,154.5 133.5,145.5 134.5,145.5 134.5,160.5 136.5,160.5 136.5,154.5 137.5,154.5 138.5,149.5 141.5,149.5 142.5,154.5 145.5,154.5 146.5,165.5 147.5,165.5 147.5,160.5 150.5,160.5 151.5,149.5 152.5,149.5 153.5,154.5 154.5,154.5 155.5,145.5 156.5,145.5 157.5,138.5 158.5,138.5 159.5,123.5 160.5,123.5 160.5,138.5 162.5,138.5 162.5,107.5 163.5,107.5 164.5,118.5 165.5,118.5 166.5,114.5 167.5,114.5 168.5,118.5 169.5,118.5 170.5,98.5 171.5,98.5 172.5,118.5 173.5,118.5 173.5,123.5 177.5,123.5 177.5,149.5 178.5,149.5 179.5,145.5 182.5,145.5 183.5,138.5 184.5,138.5 185.5,145.5 188.5,145.5 188.5,154.5 190.5,154.5 190.5,149.5 191.5,149.5 192.5,138.5 193.5,138.5 194.5,149.5 201.5,149.5 201.5,145.5 203.5,145.5 203.5,138.5 206.5,138.5 207.5,149.5 208.5,149.5 209.5,138.5 212.5,138.5 212.5,145.5 214.5,145.5 214.5,160.5 216.5,160.5 216.5,154.5 217.5,154.5 218.5,149.5 219.5,149.5 220.5,145.5 221.5,145.5 222.5,134.5 223.5,134.5 224.5,138.5 227.5,138.5 227.5,149.5 229.5,149.5 229.5,154.5 232.5,154.5 233.5,160.5 234.5,160.5 235.5,154.5 236.5,154.5 237.5,160.5 251.5,160.5 251.5,165.5 255.5,165.5 255.5,160.5 256.5,160.5 257.5,149.5 258.5,149.5 259.5,160.5 260.5,160.5 261.5,154.5 262.5,154.5 263.5,160.5 264.5,160.5 264.5,145.5 266.5,145.5 266.5,114.5 268.5,114.5 268.5,107.5 269.5,107.5 270.5,103.5 271.5,103.5 272.5,92.5 273.5,92.5 274.5,87.5 275.5,87.5 276.5,129.5 277.5,129.5 278.5,118.5 279.5,118.5 279.5,138.5 281.5,138.5 281.5,145.5 282.5,145.5 283.5,138.5 286.5,138.5 287.5,129.5 288.5,129.5 289.5,160.5 290.5,160.5 291.5,149.5 292.5,149.5 292.5,154.5 294.5,154.5 294.5,149.5 295.5,149.5 296.5,145.5 297.5,145.5 298.5,160.5 299.5,160.5 300.5,154.5 301.5,154.5 302.5,160.5 307.5,160.5 307.5,154.5 308.5,154.5 309.5,145.5 310.5,145.5 311.5,123.5 312.5,123.5 313.5,138.5 314.5,138.5 315.5,149.5 316.5,149.5 317.5,145.5 318.5,145.5 318.5,118.5 320.5,118.5 320.5,114.5 321.5,114.5 322.5,98.5 323.5,98.5 324.5,83.5 325.5,83.5 326.5,114.5 327.5,114.5 328.5,98.5 329.5,98.5 330.5,107.5 331.5,107.5 331.5,118.5 333.5,118.5 333.5,138.5 335.5,138.5 335.5,145.5 340.5,145.5 341.5,138.5 342.5,138.5 343.5,149.5 344.5,149.5 344.5,145.5 348.5,145.5 348.5,149.5 349.5,149.5 350.5,154.5 353.5,154.5 354.5,149.5 355.5,149.5 356.5,160.5 357.5,160.5 357.5,145.5 359.5,145.5 359.5,154.5 362.5,154.5 363.5,149.5 364.5,149.5 365.5,154.5 370.5,154.5 370.5,160.5 372.5,160.5 372.5,154.5 377.5,154.5 378.5,160.5 387.5,160.5 387.5,165.5 390.5,165.5 391.5,160.5 394.5,160.5 395.5,154.5 398.5,154.5 398.5,160.5 400.5,160.5 400.5,154.5 401.5,154.5 402.5,160.5 403.5,160.5 404.5,145.5 405.5,145.5 406.5,118.5 407.5,118.5 408.5,103.5 411.5,103.5 411.5,129.5 413.5,129.5 413.5,138.5 414.5,138.5 415.5,114.5 416.5,114.5 417.5,134.5 418.5,134.5 419.5,107.5 420.5,107.5 421.5,129.5 422.5,129.5 422.5,145.5 424.5,145.5 424.5,123.5 426.5,123.5 426.5,145.5 427.5,145.5 428.5,118.5 429.5,118.5 430.5,145.5 431.5,145.5 432.5,154.5 433.5,154.5 434.5,149.5 437.5,149.5 437.5,154.5 439.5,154.5 439.5,160.5 440.5,160.5 441.5,154.5 442.5,154.5 443.5,160.5 444.5,160.5 445.5,165.5 446.5,165.5 447.5,160.5 448.5,160.5 449.5,154.5 452.5,154.5 452.5,149.5 453.5,149.5 454.5,154.5 455.5,154.5 456.5,160.5 457.5,160.5 458.5,154.5 459.5,154.5 460.5,145.5 461.5,145.5 462.5,165.5 463.5,165.5 463.5,160.5 466.5,160.5 467.5,154.5 468.5,154.5 469.5,149.5 470.5,149.5 471.5,154.5 472.5,154.5 473.5,160.5 474.5,160.5 475.5,154.5 476.5,154.5 476.5,160.5 480.5,160.5 480.5,165.5 481.5,165.5 482.5,160.5 483.5,160.5 484.5,154.5 487.5,154.5 488.5,160.5 489.5,160.5 489.5,165.5 493.5,165.5 493.5,160.5 496.5,160.5 497.5,154.5 498.5,154.5 499.5,145.5 500.5,145.5 501.5,107.5 504.5,107.5 504.5,118.5 506.5,118.5 506.5,123.5 507.5,123.5 508.5,118.5 509.5,118.5 510.5,138.5 511.5,138.5 512.5,145.5 513.5,145.5 514.5,129.5 515.5,129.5 515.5,145.5 517.5,145.5 517.5,160.5 520.5,160.5 521.5,149.5 522.5,149.5 523.5,154.5 524.5,154.5 525.5,149.5 526.5,149.5 527.5,160.5 530.5,160.5 530.5,154.5 533.5,154.5 534.5,134.5 535.5,134.5 536.5,114.5 537.5,114.5 538.5,107.5 539.5,107.5 540.5,134.5 541.5,134.5 541.5,123.5 545.5,123.5 545.5,134.5 546.5,134.5 547.5,123.5 548.5,123.5 549.5,107.5 550.5,107.5 551.5,118.5 556.5,118.5 556.5,145.5 559.5,145.5 560.5,129.5 561.5,129.5 562.5,134.5 563.5,134.5 564.5,149.5 565.5,149.5 566.5,154.5 569.5,154.5 569.5,134.5 571.5,134.5 571.5,145.5 572.5,145.5 573.5,138.5 574.5,138.5 575.5,149.5 578.5,149.5 579.5,138.5 580.5,138.5 581.5,107.5" fill="none" stroke="#000" stroke-width="1" stroke-linejoin="miter"/>
<polyline points="120.65,212.86 122.21,214.66 123.41,215.86 124.02,220.08 124.86,223.44 125.82,221.52 126.42,218.87 127.38,220.68 128.23,222.24 129.43,221.04 130.63,219.47 131.47,216.71 133.04,216.47 134.24,219.83 135.44,218.27 136.65,218.63 137.85,220.32 139.41,221.04 140.62,218.27 142.06,215.62 143.86,218.27 145.07,215.50 146.27,214.42 148.08,215.50 149.52,217.07 150.48,210.21 151.44,210.45 152.29,214.06 153.25,217.07 154.09,215.86 155.65,205.40 156.74,205.64 158.30,208.65 159.26,214.06 160.11,224.29 161.07,217.67 162.27,213.46 163.11,218.87 163.71,224.89 164.68,220.08 165.52,217.91 166.72,219.47 167.56,224.29 168.53,227.29 169.49,223.08 170.69,221.52 171.89,219.47 172.86,217.91 173.70,220.08 174.54,226.09 175.50,222.48 176.35,219.47 177.55,221.52 178.75,224.29 179.59,219.47 180.56,218.63 181.52,222.48 182.60,226.69 183.56,222.48 184.77,221.52 185.97,221.88 186.81,220.68 187.77,222.72 188.74,224.89 189.94,223.68 191.14,222.48 192.35,222.72 193.55,221.04 194.63,218.87 195.59,215.50 196.80,218.27 198.00,219.47 199.20,218.87 200.17,215.50 201.01,217.07 201.85,222.48 203.05,224.29 204.26,224.05 205.46,221.88 207.02,219.47 208.59,218.87 210.03,219.47 210.99,221.28 211.83,224.89 212.68,218.87 213.88,219.47 214.84,218.87 216.05,218.27 217.25,219.47 218.21,222.24 219.17,226.09 220.02,221.88 221.10,221.52 222.42,223.08 223.50,225.49 224.23,228.26 225.07,224.89 225.91,222.48 227.11,224.29 228.32,223.08 229.88,221.52 231.44,220.68 232.89,222.24 234.33,222.72 235.53,224.29 236.74,222.48 238.30,223.08 239.50,222.72 240.71,218.87 241.91,218.63 243.47,219.47 244.68,216.71 245.88,216.71 247.08,218.27 247.92,220.44 249.49,219.47 250.33,217.07 251.17,212.62 252.14,216.23 253.34,214.66 254.30,212.62 255.14,214.06 256.35,212.86 257.19,216.23 258.15,214.06 259.11,211.65 259.95,210.45 260.92,213.46 262.00,215.26 262.96,215.26 263.80,209.85 264.53,200.23 265.37,197.46 266.33,200.83 267.17,198.18 268.14,201.43 268.74,211.65 269.34,224.89 269.94,233.91 270.78,229.10 271.62,234.51 272.35,237.16 273.31,231.50 274.15,236.92 274.99,238.12 276.20,236.32 277.16,238.12 278.00,240.12 278.96,234.11 280.17,231.10 281.37,229.53 282.57,231.10 283.77,229.89 284.62,227.49 285.82,230.50 287.02,233.50 288.23,230.50 289.43,228.09 290.99,229.29 292.20,229.05 293.40,226.29 294.60,229.29 295.80,231.46 297.25,231.10 298.45,229.29 299.65,229.05 300.86,231.70 302.06,232.30 303.50,229.89 305.07,227.49 306.27,225.08 307.47,224.24 308.68,221.47 309.88,217.86 310.72,211.25 311.92,210.05 312.89,214.26 314.09,220.87 315.05,222.68 316.50,222.32 317.34,216.06 318.30,215.46 319.14,220.87 320.11,228.09 320.71,237.11 321.55,243.73 322.51,244.33 323.47,238.92 324.68,236.51 325.52,240.12 326.48,233.50 327.32,234.11 328.29,240.12 329.49,247.94 330.33,244.93 331.17,243.97 332.14,244.69 333.34,242.53 334.54,238.92 335.74,234.71 336.71,236.51 337.91,238.32 339.11,234.71 340.32,232.30 341.76,231.70 343.20,231.94 344.17,229.89 345.13,227.49 346.33,229.29 347.17,231.46 348.38,230.50 349.58,228.45 350.78,228.09 352.59,228.69 353.79,225.68 354.99,223.88 356.20,223.52 357.16,226.29 358.00,228.09 359.20,225.92 360.17,228.09 361.37,229.29 362.57,226.89 364.02,224.48 365.22,222.08 366.18,224.48 367.38,226.29 368.59,222.68 369.79,218.71 370.99,218.47 372.20,221.47 373.40,220.63 374.84,221.47 376.05,223.28 377.25,222.68 378.21,219.67 379.41,217.86 380.02,213.05 381.46,212.45 383.02,212.69 384.23,214.86 385.67,215.46 387.11,215.10 388.32,215.82 389.52,217.26 390.72,215.82 392.29,215.10 393.49,214.86 394.69,217.26 395.89,215.46 397.10,216.06 398.30,216.66 399.50,214.26 400.71,211.25 401.55,208.24 402.75,208.24 403.71,210.65 404.68,212.45 405.52,213.65 406.12,210.05 406.48,205.47 407.32,211.25 407.92,220.87 408.53,231.70 409.49,230.50 410.33,234.11 411.17,230.50 412.14,234.11 413.34,233.50 414.54,232.90 415.74,234.11 416.71,235.91 417.55,230.50 418.39,226.89 419.35,234.11 420.32,238.32 421.28,234.11 422.36,234.11 423.56,231.70 424.77,229.29 425.97,226.65 427.53,226.89 428.74,228.09 429.70,233.50 430.54,229.29 431.62,224.24 433.19,223.88 434.39,226.89 435.59,229.89 436.80,230.26 437.40,226.29 438.00,224.50 439.20,225.10 440.65,228.11 441.85,224.50 443.05,221.49 444.26,223.05 445.82,224.26 447.38,223.89 449.07,222.69 450.27,222.09 451.47,219.68 452.68,220.89 454.24,221.49 455.44,222.09 456.65,220.89 457.85,221.13 459.05,222.09 459.89,217.88 460.62,212.47 461.46,214.87 462.66,219.68 463.86,220.29 465.43,219.08 466.63,216.68 467.47,215.11 468.32,218.48 469.52,219.44 470.48,216.08 471.44,213.91 472.65,215.47 473.85,219.68 475.05,220.29 476.26,216.08 477.46,213.91 478.90,214.87 480.35,215.11 481.55,213.07 482.75,211.02 483.71,211.26 484.92,214.87 486.12,217.04 487.56,217.88 489.13,217.52 490.33,214.87 491.53,210.06 492.74,207.89 493.94,209.46 495.14,210.06 496.71,210.06 497.91,206.45 499.11,201.04 499.95,194.42 500.80,188.65 501.52,190.81 502.12,199.23 502.96,207.65 503.92,212.47 504.77,214.27 505.61,217.28 506.57,215.47 507.53,215.11 508.38,217.52 509.22,218.48 509.94,225.94 510.78,223.89 511.62,221.49 512.35,220.89 513.19,223.89 514.39,226.30 515.59,223.05 516.80,222.69 518.00,223.88 519.38,224.45 520.53,224.80 521.67,223.30 522.59,222.16 523.74,222.96 525.12,224.11 526.26,223.65 527.41,221.58 528.56,219.29 529.48,217.57 530.40,216.99 531.54,217.91 532.69,218.14 533.50,215.27 534.30,212.97 535.22,213.55 536.14,211.25 536.94,209.53 537.74,208.96 538.20,203.22 538.66,209.53 539.58,210.68 540.38,213.55 541.30,212.63 541.87,219.29 542.56,222.50 543.25,219.86 544.17,216.42 545.09,216.99 545.89,214.93 546.70,218.14 547.61,219.52 548.42,219.29 549.22,221.58 550.14,220.43 551.06,223.30 551.86,226.17 552.66,220.43 553.35,225.03 554.16,226.75 554.96,228.24 555.88,225.60 556.80,222.73 557.60,222.50 558.40,225.60 559.32,224.45 560.47,225.60 561.39,227.09 562.77,226.40 563.68,225.60 564.49,222.50 565.63,219.86 566.78,219.29 567.93,220.43 569.08,222.73 570.23,225.60 571.37,227.32 572.52,225.60 573.67,224.45 574.82,223.30 575.74,220.43 576.54,216.99 577.46,215.61 578.49,216.76 579.18,220.43 579.98,222.73 580.90,223.30 581.47,225.03" fill="none" stroke="#000" stroke-width="1.15" stroke-linejoin="round"/>
<rect x="593" y="338" width="12.5" height="142.5" fill="url(#cb)"/>
<g shape-rendering="crispEdges" stroke="#000" stroke-width="1">
<line x1="605.5" y1="338" x2="605.5" y2="480.5"/>
<line x1="605.5" y1="467.5" x2="614" y2="467.5"/>
<line x1="605.5" y1="434.5" x2="614" y2="434.5"/>
<line x1="605.5" y1="402.5" x2="614" y2="402.5"/>
<line x1="605.5" y1="370.5" x2="614" y2="370.5"/>
<line x1="605.5" y1="338.5" x2="614" y2="338.5"/>
</g>
<g stroke="#000" stroke-width="1" shape-rendering="crispEdges">
<line x1="605.5" y1="476.50" x2="610" y2="476.50"/>
<line x1="605.5" y1="474.50" x2="610" y2="474.50"/>
<line x1="605.5" y1="472.50" x2="610" y2="472.50"/>
<line x1="605.5" y1="470.50" x2="610" y2="470.50"/>
<line x1="605.5" y1="468.50" x2="610" y2="468.50"/>
<line x1="605.5" y1="457.50" x2="610" y2="457.50"/>
<line x1="605.5" y1="451.50" x2="610" y2="451.50"/>
<line x1="605.5" y1="447.50" x2="610" y2="447.50"/>
<line x1="605.5" y1="444.50" x2="610" y2="444.50"/>
<line x1="605.5" y1="442.50" x2="610" y2="442.50"/>
<line x1="605.5" y1="439.50" x2="610" y2="439.50"/>
<line x1="605.5" y1="437.50" x2="610" y2="437.50"/>
<line x1="605.5" y1="436.50" x2="610" y2="436.50"/>
<line x1="605.5" y1="425.50" x2="610" y2="425.50"/>
<line x1="605.5" y1="419.50" x2="610" y2="419.50"/>
<line x1="605.5" y1="415.50" x2="610" y2="415.50"/>
<line x1="605.5" y1="412.50" x2="610" y2="412.50"/>
<line x1="605.5" y1="409.50" x2="610" y2="409.50"/>
<line x1="605.5" y1="407.50" x2="610" y2="407.50"/>
<line x1="605.5" y1="405.50" x2="610" y2="405.50"/>
<line x1="605.5" y1="404.50" x2="610" y2="404.50"/>
<line x1="605.5" y1="392.50" x2="610" y2="392.50"/>
<line x1="605.5" y1="387.50" x2="610" y2="387.50"/>
<line x1="605.5" y1="383.50" x2="610" y2="383.50"/>
<line x1="605.5" y1="380.50" x2="610" y2="380.50"/>
<line x1="605.5" y1="377.50" x2="610" y2="377.50"/>
<line x1="605.5" y1="375.50" x2="610" y2="375.50"/>
<line x1="605.5" y1="373.50" x2="610" y2="373.50"/>
<line x1="605.5" y1="371.50" x2="610" y2="371.50"/>
<line x1="605.5" y1="360.50" x2="610" y2="360.50"/>
<line x1="605.5" y1="354.50" x2="610" y2="354.50"/>
<line x1="605.5" y1="350.50" x2="610" y2="350.50"/>
<line x1="605.5" y1="347.50" x2="610" y2="347.50"/>
<line x1="605.5" y1="345.50" x2="610" y2="345.50"/>
<line x1="605.5" y1="343.50" x2="610" y2="343.50"/>
<line x1="605.5" y1="341.50" x2="610" y2="341.50"/>
<line x1="605.5" y1="339.50" x2="610" y2="339.50"/>
</g>
<g font-family="'Liberation Sans', sans-serif" font-size="12.6" fill="#000" opacity="0.99">
<text x="100.21" y="169.90" textLength="7.69" lengthAdjust="spacingAndGlyphs">0</text>
<text x="92.37" y="138.90" textLength="15.28" lengthAdjust="spacingAndGlyphs">20</text>
<text x="92.87" y="107.90" textLength="14.78" lengthAdjust="spacingAndGlyphs">40</text>
<text x="92.37" y="76.90" textLength="15.28" lengthAdjust="spacingAndGlyphs">60</text>
<text x="92.62" y="45.90" textLength="15.03" lengthAdjust="spacingAndGlyphs">80</text>
<text x="100.21" y="221.90" textLength="7.69" lengthAdjust="spacingAndGlyphs">0</text>
<text x="88.39" y="256.90" textLength="19.51" lengthAdjust="spacingAndGlyphs">-50</text>
<text x="80.55" y="291.90" textLength="27.35" lengthAdjust="spacingAndGlyphs">-100</text>
<text x="80.55" y="326.90" textLength="27.35" lengthAdjust="spacingAndGlyphs">-150</text>
<text x="95.28" y="477.90" textLength="11.32" lengthAdjust="spacingAndGlyphs">-1</text>
<text x="100.21" y="459.90" textLength="7.69" lengthAdjust="spacingAndGlyphs">0</text>
<text x="99.01" y="440.90" textLength="7.59" lengthAdjust="spacingAndGlyphs">1</text>
<text x="100.21" y="422.90" textLength="7.69" lengthAdjust="spacingAndGlyphs">2</text>
<text x="100.21" y="403.90" textLength="7.69" lengthAdjust="spacingAndGlyphs">3</text>
<text x="100.46" y="385.90" textLength="7.19" lengthAdjust="spacingAndGlyphs">4</text>
<text x="100.21" y="366.90" textLength="7.69" lengthAdjust="spacingAndGlyphs">5</text>
<text x="100.21" y="348.90" textLength="7.69" lengthAdjust="spacingAndGlyphs">6</text>
<text x="84.20" y="503.60" textLength="70.40" lengthAdjust="spacingAndGlyphs">2007-07-01</text>
<text x="232.20" y="503.60" textLength="70.40" lengthAdjust="spacingAndGlyphs">2007-07-11</text>
<text x="381.20" y="503.60" textLength="70.40" lengthAdjust="spacingAndGlyphs">2007-07-21</text>
<text x="530.20" y="503.60" textLength="70.40" lengthAdjust="spacingAndGlyphs">2007-07-31</text>
<text transform="translate(47.00,109.05) rotate(-90)" textLength="14.90" lengthAdjust="spacingAndGlyphs">Kp</text>
<text transform="translate(59.00,147.15) rotate(-90)" textLength="87.60" lengthAdjust="spacingAndGlyphs">(e.g. 3+ = 33,</text>
<text transform="translate(70.80,128.80) rotate(-90)" textLength="49.80" lengthAdjust="spacingAndGlyphs">6- = 57,</text>
<text transform="translate(83.00,141.65) rotate(-90)" textLength="77.50" lengthAdjust="spacingAndGlyphs">4 = 40, etc.)</text>
<text transform="translate(71.00,266.75) rotate(-90)" textLength="24.30" lengthAdjust="spacingAndGlyphs">DST</text>
<text transform="translate(87.00,444.10) rotate(-90)" textLength="70.35" lengthAdjust="spacingAndGlyphs">Proton Flux</text>
<text x="616.70" y="474.80" textLength="15.90" lengthAdjust="spacingAndGlyphs">10</text>
<text x="633.65" y="468.90" textLength="9.85" lengthAdjust="spacingAndGlyphs">-1</text>
<text x="616.70" y="441.80" textLength="15.90" lengthAdjust="spacingAndGlyphs">10</text>
<text x="634.05" y="435.90" textLength="6.70" lengthAdjust="spacingAndGlyphs">0</text>
<text x="616.70" y="409.80" textLength="15.90" lengthAdjust="spacingAndGlyphs">10</text>
<text x="633.30" y="403.90" textLength="7.70" lengthAdjust="spacingAndGlyphs">1</text>
<text x="616.70" y="377.80" textLength="15.90" lengthAdjust="spacingAndGlyphs">10</text>
<text x="633.80" y="371.90" textLength="7.20" lengthAdjust="spacingAndGlyphs">2</text>
<text x="616.70" y="345.80" textLength="15.90" lengthAdjust="spacingAndGlyphs">10</text>
<text x="633.80" y="339.90" textLength="7.20" lengthAdjust="spacingAndGlyphs">3</text>
</g>
</svg>
</body></html>
